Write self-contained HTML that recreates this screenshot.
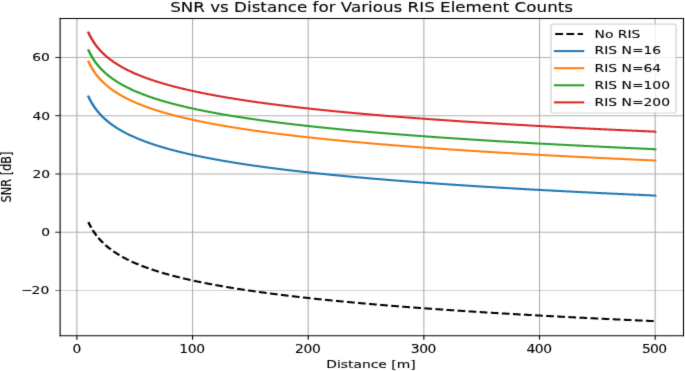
<!DOCTYPE html>
<html><head><meta charset="utf-8"><title>SNR vs Distance</title><style>
html,body{margin:0;padding:0;background:#fff;width:685px;height:371px;overflow:hidden}
svg{display:block}
</style></head><body>
<svg width="685" height="371" viewBox="0 0 685 454.6569" preserveAspectRatio="none" style="">
<defs><clipPath id="c0"><rect x="60.13" y="22.66" width="623.37" height="388.74"/></clipPath><filter id="bl" x="-2%" y="-2%" width="104%" height="104%" color-interpolation-filters="sRGB"><feConvolveMatrix order="3" kernelMatrix="0.011 0.083 0.011 0.083 0.62 0.083 0.011 0.083 0.011" preserveAlpha="false"/></filter></defs>
<g filter="url(#bl)" font-family="'DejaVu Sans', 'Liberation Sans', sans-serif" fill="#000" >
<path d="M76.90 411.40 L76.90 22.66" fill="none" stroke="#b0b0b0" stroke-width="1.111" stroke-linecap="square" stroke-linejoin="round" clip-path="url(#c0)"/>
<path d="M76.90 411.40 L76.90 416.26" fill="#000000" stroke="#000000" stroke-width="1.111" stroke-linecap="butt" stroke-linejoin="round"/>
<text transform="translate(72.52,432.24) scale(1,1.08)" font-size="13.889" stroke="#000" stroke-width="0.12"  letter-spacing="-0.4">0</text>
<path d="M192.55 411.40 L192.55 22.66" fill="none" stroke="#b0b0b0" stroke-width="1.111" stroke-linecap="square" stroke-linejoin="round" clip-path="url(#c0)"/>
<path d="M192.55 411.40 L192.55 416.26" fill="#000000" stroke="#000000" stroke-width="1.111" stroke-linecap="butt" stroke-linejoin="round"/>
<text transform="translate(179.37,432.24) scale(1,1.08)" font-size="13.889" stroke="#000" stroke-width="0.12"  letter-spacing="-0.4">100</text>
<path d="M308.21 411.40 L308.21 22.66" fill="none" stroke="#b0b0b0" stroke-width="1.111" stroke-linecap="square" stroke-linejoin="round" clip-path="url(#c0)"/>
<path d="M308.21 411.40 L308.21 416.26" fill="#000000" stroke="#000000" stroke-width="1.111" stroke-linecap="butt" stroke-linejoin="round"/>
<text transform="translate(295.08,432.24) scale(1,1.08)" font-size="13.889" stroke="#000" stroke-width="0.12"  letter-spacing="-0.4">200</text>
<path d="M423.86 411.40 L423.86 22.66" fill="none" stroke="#b0b0b0" stroke-width="1.111" stroke-linecap="square" stroke-linejoin="round" clip-path="url(#c0)"/>
<path d="M423.86 411.40 L423.86 416.26" fill="#000000" stroke="#000000" stroke-width="1.111" stroke-linecap="butt" stroke-linejoin="round"/>
<text transform="translate(410.73,432.24) scale(1,1.08)" font-size="13.889" stroke="#000" stroke-width="0.12"  letter-spacing="-0.4">300</text>
<path d="M539.51 411.40 L539.51 22.66" fill="none" stroke="#b0b0b0" stroke-width="1.111" stroke-linecap="square" stroke-linejoin="round" clip-path="url(#c0)"/>
<path d="M539.51 411.40 L539.51 416.26" fill="#000000" stroke="#000000" stroke-width="1.111" stroke-linecap="butt" stroke-linejoin="round"/>
<text transform="translate(526.39,432.24) scale(1,1.08)" font-size="13.889" stroke="#000" stroke-width="0.12"  letter-spacing="-0.4">400</text>
<path d="M655.16 411.40 L655.16 22.66" fill="none" stroke="#b0b0b0" stroke-width="1.111" stroke-linecap="square" stroke-linejoin="round" clip-path="url(#c0)"/>
<path d="M655.16 411.40 L655.16 416.26" fill="#000000" stroke="#000000" stroke-width="1.111" stroke-linecap="butt" stroke-linejoin="round"/>
<text transform="translate(642.04,432.24) scale(1,1.08)" font-size="13.889" stroke="#000" stroke-width="0.12"  letter-spacing="-0.75">500</text>
<text transform="translate(326.20,451.06) scale(1,1)" font-size="13.889" stroke="#000" stroke-width="0.12" >Distance [m]</text>
<path d="M60.13 355.96 L683.50 355.96" fill="none" stroke="#b0b0b0" stroke-width="1.111" stroke-linecap="square" stroke-linejoin="round" clip-path="url(#c0)"/>
<path d="M60.13 355.96 L55.27 355.96" fill="#000000" stroke="#000000" stroke-width="1.111" stroke-linecap="butt" stroke-linejoin="round"/>
<text transform="translate(21.18,360.54) scale(1,1)" font-size="13.889" stroke="#000" stroke-width="0.12" >−<tspan dx="-1.2">20</tspan></text>
<path d="M60.13 284.56 L683.50 284.56" fill="none" stroke="#b0b0b0" stroke-width="1.111" stroke-linecap="square" stroke-linejoin="round" clip-path="url(#c0)"/>
<path d="M60.13 284.56 L55.27 284.56" fill="#000000" stroke="#000000" stroke-width="1.111" stroke-linecap="butt" stroke-linejoin="round"/>
<text transform="translate(41.16,289.45) scale(1,1)" font-size="13.889" stroke="#000" stroke-width="0.12" >0</text>
<path d="M60.13 213.16 L683.50 213.16" fill="none" stroke="#b0b0b0" stroke-width="1.111" stroke-linecap="square" stroke-linejoin="round" clip-path="url(#c0)"/>
<path d="M60.13 213.16 L55.27 213.16" fill="#000000" stroke="#000000" stroke-width="1.111" stroke-linecap="butt" stroke-linejoin="round"/>
<text transform="translate(32.41,218.05) scale(1,1)" font-size="13.889" stroke="#000" stroke-width="0.12" >20</text>
<path d="M60.13 141.76 L683.50 141.76" fill="none" stroke="#b0b0b0" stroke-width="1.111" stroke-linecap="square" stroke-linejoin="round" clip-path="url(#c0)"/>
<path d="M60.13 141.76 L55.27 141.76" fill="#000000" stroke="#000000" stroke-width="1.111" stroke-linecap="butt" stroke-linejoin="round"/>
<text transform="translate(32.41,146.65) scale(1,1)" font-size="13.889" stroke="#000" stroke-width="0.12" >40</text>
<path d="M60.13 70.37 L683.50 70.37" fill="none" stroke="#b0b0b0" stroke-width="1.111" stroke-linecap="square" stroke-linejoin="round" clip-path="url(#c0)"/>
<path d="M60.13 70.37 L55.27 70.37" fill="#000000" stroke="#000000" stroke-width="1.111" stroke-linecap="butt" stroke-linejoin="round"/>
<text transform="translate(32.28,75.25) scale(1,1)" font-size="13.889" stroke="#000" stroke-width="0.12" >60</text>
<text transform="translate(10.83,248.10) rotate(-90) scale(1,1)" font-size="13.889" stroke="#000" stroke-width="0.12" >SNR [dB]</text>
<path d="M88.47 272.31 L89.03 273.80 L89.60 275.22 L90.17 276.57 L90.73 277.87 L91.30 279.12 L91.87 280.31 L92.44 281.47 L93.00 282.58 L93.57 283.65 L94.14 284.69 L94.70 285.69 L95.27 286.67 L95.84 287.61 L96.41 288.52 L96.97 289.41 L97.54 290.28 L98.11 291.12 L98.68 291.94 L99.24 292.73 L99.81 293.51 L100.38 294.27 L100.94 295.01 L101.51 295.73 L102.08 296.44 L102.65 297.13 L103.21 297.81 L103.78 298.47 L104.35 299.11 L104.92 299.75 L105.48 300.37 L106.05 300.98 L106.62 301.58 L107.18 302.16 L107.75 302.74 L108.32 303.30 L108.89 303.86 L109.45 304.40 L110.02 304.94 L110.59 305.47 L111.16 305.98 L111.72 306.49 L112.29 306.99 L112.86 307.49 L113.42 307.97 L113.99 308.45 L114.56 308.92 L115.13 309.38 L115.69 309.84 L116.26 310.29 L116.83 310.73 L117.40 311.17 L117.96 311.60 L118.53 312.03 L119.10 312.45 L119.66 312.86 L120.23 313.27 L120.80 313.67 L121.37 314.07 L121.93 314.47 L122.50 314.85 L123.07 315.24 L123.64 315.62 L124.20 315.99 L124.77 316.36 L125.34 316.73 L125.90 317.09 L126.47 317.44 L127.04 317.80 L127.61 318.14 L128.17 318.49 L128.74 318.83 L129.31 319.17 L129.88 319.50 L130.44 319.83 L131.01 320.16 L131.58 320.48 L132.14 320.80 L132.71 321.12 L133.28 321.43 L133.85 321.74 L134.41 322.05 L134.98 322.35 L135.55 322.66 L136.12 322.95 L136.68 323.25 L137.25 323.54 L137.82 323.83 L138.38 324.12 L138.95 324.41 L139.52 324.69 L140.09 324.97 L140.65 325.24 L141.22 325.52 L141.79 325.79 L142.36 326.06 L142.92 326.33 L143.49 326.59 L144.06 326.86 L144.62 327.12 L145.19 327.38 L145.76 327.63 L146.33 327.89 L146.89 328.14 L147.46 328.39 L148.03 328.64 L148.60 328.88 L149.16 329.13 L149.73 329.37 L150.30 329.61 L150.86 329.85 L151.43 330.09 L152.00 330.32 L152.57 330.56 L153.13 330.79 L153.70 331.02 L154.27 331.25 L154.84 331.47 L155.40 331.70 L155.97 331.92 L156.54 332.14 L157.10 332.36 L157.67 332.58 L158.24 332.80 L158.81 333.01 L159.37 333.23 L159.94 333.44 L160.51 333.65 L161.08 333.86 L161.64 334.07 L162.21 334.28 L162.78 334.48 L163.34 334.69 L163.91 334.89 L164.48 335.09 L165.05 335.29 L165.61 335.49 L166.18 335.69 L166.75 335.88 L167.32 336.08 L167.88 336.27 L168.45 336.46 L169.02 336.66 L169.58 336.85 L170.15 337.04 L170.72 337.22 L171.29 337.41 L171.85 337.60 L172.42 337.78 L172.99 337.96 L173.56 338.15 L174.12 338.33 L174.69 338.51 L175.26 338.69 L175.82 338.87 L176.39 339.04 L176.96 339.22 L177.53 339.40 L178.09 339.57 L178.66 339.74 L179.23 339.92 L179.80 340.09 L180.36 340.26 L180.93 340.43 L181.50 340.60 L182.06 340.76 L182.63 340.93 L183.20 341.10 L183.77 341.26 L184.33 341.43 L184.90 341.59 L185.47 341.75 L186.03 341.91 L186.60 342.07 L187.17 342.23 L187.74 342.39 L188.30 342.55 L188.87 342.71 L189.44 342.86 L190.01 343.02 L190.57 343.18 L191.14 343.33 L191.71 343.48 L192.27 343.64 L192.84 343.79 L193.41 343.94 L193.98 344.09 L194.54 344.24 L195.11 344.39 L195.68 344.54 L196.25 344.69 L196.81 344.83 L197.38 344.98 L197.95 345.12 L198.51 345.27 L199.08 345.41 L199.65 345.56 L200.22 345.70 L200.78 345.84 L201.35 345.98 L201.92 346.13 L202.49 346.27 L203.05 346.41 L203.62 346.55 L204.19 346.68 L204.75 346.82 L205.32 346.96 L205.89 347.10 L206.46 347.23 L207.02 347.37 L207.59 347.50 L208.16 347.64 L208.73 347.77 L209.29 347.90 L209.86 348.04 L210.43 348.17 L210.99 348.30 L211.56 348.43 L212.13 348.56 L212.70 348.69 L213.26 348.82 L213.83 348.95 L214.40 349.08 L214.97 349.20 L215.53 349.33 L216.10 349.46 L216.67 349.58 L217.23 349.71 L217.80 349.83 L218.37 349.96 L218.94 350.08 L219.50 350.21 L220.07 350.33 L220.64 350.45 L221.21 350.57 L221.77 350.70 L222.34 350.82 L222.91 350.94 L223.47 351.06 L224.04 351.18 L224.61 351.30 L225.18 351.42 L225.74 351.53 L226.31 351.65 L226.88 351.77 L227.45 351.89 L228.01 352.00 L228.58 352.12 L229.15 352.24 L229.71 352.35 L230.28 352.47 L230.85 352.58 L231.42 352.69 L231.98 352.81 L232.55 352.92 L233.12 353.03 L233.69 353.15 L234.25 353.26 L234.82 353.37 L235.39 353.48 L235.95 353.59 L236.52 353.70 L237.09 353.81 L237.66 353.92 L238.22 354.03 L238.79 354.14 L239.36 354.25 L239.93 354.36 L240.49 354.46 L241.06 354.57 L241.63 354.68 L242.19 354.79 L242.76 354.89 L243.33 355.00 L243.90 355.10 L244.46 355.21 L245.03 355.31 L245.60 355.42 L246.17 355.52 L246.73 355.62 L247.30 355.73 L247.87 355.83 L248.43 355.93 L249.00 356.04 L249.57 356.14 L250.14 356.24 L250.70 356.34 L251.27 356.44 L251.84 356.54 L252.41 356.64 L252.97 356.74 L253.54 356.84 L254.11 356.94 L254.67 357.04 L255.24 357.14 L255.81 357.24 L256.38 357.34 L256.94 357.44 L257.51 357.53 L258.08 357.63 L258.65 357.73 L259.21 357.82 L259.78 357.92 L260.35 358.02 L260.91 358.11 L261.48 358.21 L262.05 358.30 L262.62 358.40 L263.18 358.49 L263.75 358.59 L264.32 358.68 L264.89 358.77 L265.45 358.87 L266.02 358.96 L266.59 359.05 L267.15 359.15 L267.72 359.24 L268.29 359.33 L268.86 359.42 L269.42 359.51 L269.99 359.60 L270.56 359.70 L271.13 359.79 L271.69 359.88 L272.26 359.97 L272.83 360.06 L273.39 360.15 L273.96 360.24 L274.53 360.32 L275.10 360.41 L275.66 360.50 L276.23 360.59 L276.80 360.68 L277.37 360.77 L277.93 360.85 L278.50 360.94 L279.07 361.03 L279.63 361.12 L280.20 361.20 L280.77 361.29 L281.34 361.37 L281.90 361.46 L282.47 361.55 L283.04 361.63 L283.60 361.72 L284.17 361.80 L284.74 361.89 L285.31 361.97 L285.87 362.06 L286.44 362.14 L287.01 362.22 L287.58 362.31 L288.14 362.39 L288.71 362.47 L289.28 362.56 L289.84 362.64 L290.41 362.72 L290.98 362.80 L291.55 362.89 L292.11 362.97 L292.68 363.05 L293.25 363.13 L293.82 363.21 L294.38 363.29 L294.95 363.37 L295.52 363.45 L296.08 363.53 L296.65 363.62 L297.22 363.70 L297.79 363.77 L298.35 363.85 L298.92 363.93 L299.49 364.01 L300.06 364.09 L300.62 364.17 L301.19 364.25 L301.76 364.33 L302.32 364.41 L302.89 364.48 L303.46 364.56 L304.03 364.64 L304.59 364.72 L305.16 364.79 L305.73 364.87 L306.30 364.95 L306.86 365.02 L307.43 365.10 L308.00 365.18 L308.56 365.25 L309.13 365.33 L309.70 365.40 L310.27 365.48 L310.83 365.55 L311.40 365.63 L311.97 365.70 L312.54 365.78 L313.10 365.85 L313.67 365.93 L314.24 366.00 L314.80 366.08 L315.37 366.15 L315.94 366.22 L316.51 366.30 L317.07 366.37 L317.64 366.44 L318.21 366.52 L318.78 366.59 L319.34 366.66 L319.91 366.73 L320.48 366.81 L321.04 366.88 L321.61 366.95 L322.18 367.02 L322.75 367.09 L323.31 367.17 L323.88 367.24 L324.45 367.31 L325.02 367.38 L325.58 367.45 L326.15 367.52 L326.72 367.59 L327.28 367.66 L327.85 367.73 L328.42 367.80 L328.99 367.87 L329.55 367.94 L330.12 368.01 L330.69 368.08 L331.26 368.15 L331.82 368.22 L332.39 368.29 L332.96 368.36 L333.52 368.42 L334.09 368.49 L334.66 368.56 L335.23 368.63 L335.79 368.70 L336.36 368.77 L336.93 368.83 L337.50 368.90 L338.06 368.97 L338.63 369.04 L339.20 369.10 L339.76 369.17 L340.33 369.24 L340.90 369.30 L341.47 369.37 L342.03 369.44 L342.60 369.50 L343.17 369.57 L343.74 369.63 L344.30 369.70 L344.87 369.77 L345.44 369.83 L346.00 369.90 L346.57 369.96 L347.14 370.03 L347.71 370.09 L348.27 370.16 L348.84 370.22 L349.41 370.29 L349.98 370.35 L350.54 370.42 L351.11 370.48 L351.68 370.54 L352.24 370.61 L352.81 370.67 L353.38 370.74 L353.95 370.80 L354.51 370.86 L355.08 370.93 L355.65 370.99 L356.22 371.05 L356.78 371.11 L357.35 371.18 L357.92 371.24 L358.48 371.30 L359.05 371.37 L359.62 371.43 L360.19 371.49 L360.75 371.55 L361.32 371.61 L361.89 371.68 L362.46 371.74 L363.02 371.80 L363.59 371.86 L364.16 371.92 L364.72 371.98 L365.29 372.04 L365.86 372.10 L366.43 372.17 L366.99 372.23 L367.56 372.29 L368.13 372.35 L368.70 372.41 L369.26 372.47 L369.83 372.53 L370.40 372.59 L370.96 372.65 L371.53 372.71 L372.10 372.77 L372.67 372.83 L373.23 372.89 L373.80 372.95 L374.37 373.00 L374.93 373.06 L375.50 373.12 L376.07 373.18 L376.64 373.24 L377.20 373.30 L377.77 373.36 L378.34 373.42 L378.91 373.47 L379.47 373.53 L380.04 373.59 L380.61 373.65 L381.17 373.71 L381.74 373.76 L382.31 373.82 L382.88 373.88 L383.44 373.94 L384.01 373.99 L384.58 374.05 L385.15 374.11 L385.71 374.16 L386.28 374.22 L386.85 374.28 L387.41 374.34 L387.98 374.39 L388.55 374.45 L389.12 374.50 L389.68 374.56 L390.25 374.62 L390.82 374.67 L391.39 374.73 L391.95 374.79 L392.52 374.84 L393.09 374.90 L393.65 374.95 L394.22 375.01 L394.79 375.06 L395.36 375.12 L395.92 375.17 L396.49 375.23 L397.06 375.28 L397.63 375.34 L398.19 375.39 L398.76 375.45 L399.33 375.50 L399.89 375.56 L400.46 375.61 L401.03 375.67 L401.60 375.72 L402.16 375.77 L402.73 375.83 L403.30 375.88 L403.87 375.94 L404.43 375.99 L405.00 376.04 L405.57 376.10 L406.13 376.15 L406.70 376.20 L407.27 376.26 L407.84 376.31 L408.40 376.36 L408.97 376.42 L409.54 376.47 L410.11 376.52 L410.67 376.57 L411.24 376.63 L411.81 376.68 L412.37 376.73 L412.94 376.79 L413.51 376.84 L414.08 376.89 L414.64 376.94 L415.21 376.99 L415.78 377.05 L416.35 377.10 L416.91 377.15 L417.48 377.20 L418.05 377.25 L418.61 377.30 L419.18 377.36 L419.75 377.41 L420.32 377.46 L420.88 377.51 L421.45 377.56 L422.02 377.61 L422.59 377.66 L423.15 377.71 L423.72 377.76 L424.29 377.81 L424.85 377.87 L425.42 377.92 L425.99 377.97 L426.56 378.02 L427.12 378.07 L427.69 378.12 L428.26 378.17 L428.83 378.22 L429.39 378.27 L429.96 378.32 L430.53 378.37 L431.09 378.42 L431.66 378.47 L432.23 378.52 L432.80 378.56 L433.36 378.61 L433.93 378.66 L434.50 378.71 L435.07 378.76 L435.63 378.81 L436.20 378.86 L436.77 378.91 L437.33 378.96 L437.90 379.01 L438.47 379.06 L439.04 379.10 L439.60 379.15 L440.17 379.20 L440.74 379.25 L441.31 379.30 L441.87 379.35 L442.44 379.39 L443.01 379.44 L443.57 379.49 L444.14 379.54 L444.71 379.59 L445.28 379.63 L445.84 379.68 L446.41 379.73 L446.98 379.78 L447.55 379.82 L448.11 379.87 L448.68 379.92 L449.25 379.97 L449.81 380.01 L450.38 380.06 L450.95 380.11 L451.52 380.15 L452.08 380.20 L452.65 380.25 L453.22 380.29 L453.79 380.34 L454.35 380.39 L454.92 380.43 L455.49 380.48 L456.05 380.53 L456.62 380.57 L457.19 380.62 L457.76 380.67 L458.32 380.71 L458.89 380.76 L459.46 380.80 L460.03 380.85 L460.59 380.90 L461.16 380.94 L461.73 380.99 L462.29 381.03 L462.86 381.08 L463.43 381.13 L464.00 381.17 L464.56 381.22 L465.13 381.26 L465.70 381.31 L466.26 381.35 L466.83 381.40 L467.40 381.44 L467.97 381.49 L468.53 381.53 L469.10 381.58 L469.67 381.62 L470.24 381.67 L470.80 381.71 L471.37 381.76 L471.94 381.80 L472.50 381.84 L473.07 381.89 L473.64 381.93 L474.21 381.98 L474.77 382.02 L475.34 382.07 L475.91 382.11 L476.48 382.15 L477.04 382.20 L477.61 382.24 L478.18 382.29 L478.74 382.33 L479.31 382.37 L479.88 382.42 L480.45 382.46 L481.01 382.50 L481.58 382.55 L482.15 382.59 L482.72 382.63 L483.28 382.68 L483.85 382.72 L484.42 382.76 L484.98 382.81 L485.55 382.85 L486.12 382.89 L486.69 382.94 L487.25 382.98 L487.82 383.02 L488.39 383.07 L488.96 383.11 L489.52 383.15 L490.09 383.19 L490.66 383.24 L491.22 383.28 L491.79 383.32 L492.36 383.36 L492.93 383.41 L493.49 383.45 L494.06 383.49 L494.63 383.53 L495.20 383.57 L495.76 383.62 L496.33 383.66 L496.90 383.70 L497.46 383.74 L498.03 383.78 L498.60 383.83 L499.17 383.87 L499.73 383.91 L500.30 383.95 L500.87 383.99 L501.44 384.03 L502.00 384.07 L502.57 384.12 L503.14 384.16 L503.70 384.20 L504.27 384.24 L504.84 384.28 L505.41 384.32 L505.97 384.36 L506.54 384.40 L507.11 384.44 L507.68 384.49 L508.24 384.53 L508.81 384.57 L509.38 384.61 L509.94 384.65 L510.51 384.69 L511.08 384.73 L511.65 384.77 L512.21 384.81 L512.78 384.85 L513.35 384.89 L513.92 384.93 L514.48 384.97 L515.05 385.01 L515.62 385.05 L516.18 385.09 L516.75 385.13 L517.32 385.17 L517.89 385.21 L518.45 385.25 L519.02 385.29 L519.59 385.33 L520.16 385.37 L520.72 385.41 L521.29 385.45 L521.86 385.49 L522.42 385.53 L522.99 385.57 L523.56 385.61 L524.13 385.65 L524.69 385.69 L525.26 385.73 L525.83 385.77 L526.40 385.80 L526.96 385.84 L527.53 385.88 L528.10 385.92 L528.66 385.96 L529.23 386.00 L529.80 386.04 L530.37 386.08 L530.93 386.12 L531.50 386.15 L532.07 386.19 L532.64 386.23 L533.20 386.27 L533.77 386.31 L534.34 386.35 L534.90 386.39 L535.47 386.42 L536.04 386.46 L536.61 386.50 L537.17 386.54 L537.74 386.58 L538.31 386.62 L538.88 386.65 L539.44 386.69 L540.01 386.73 L540.58 386.77 L541.14 386.81 L541.71 386.84 L542.28 386.88 L542.85 386.92 L543.41 386.96 L543.98 386.99 L544.55 387.03 L545.12 387.07 L545.68 387.11 L546.25 387.14 L546.82 387.18 L547.38 387.22 L547.95 387.26 L548.52 387.29 L549.09 387.33 L549.65 387.37 L550.22 387.41 L550.79 387.44 L551.36 387.48 L551.92 387.52 L552.49 387.55 L553.06 387.59 L553.62 387.63 L554.19 387.67 L554.76 387.70 L555.33 387.74 L555.89 387.78 L556.46 387.81 L557.03 387.85 L557.60 387.89 L558.16 387.92 L558.73 387.96 L559.30 388.00 L559.86 388.03 L560.43 388.07 L561.00 388.10 L561.57 388.14 L562.13 388.18 L562.70 388.21 L563.27 388.25 L563.83 388.29 L564.40 388.32 L564.97 388.36 L565.54 388.39 L566.10 388.43 L566.67 388.47 L567.24 388.50 L567.81 388.54 L568.37 388.57 L568.94 388.61 L569.51 388.64 L570.07 388.68 L570.64 388.72 L571.21 388.75 L571.78 388.79 L572.34 388.82 L572.91 388.86 L573.48 388.89 L574.05 388.93 L574.61 388.96 L575.18 389.00 L575.75 389.03 L576.31 389.07 L576.88 389.11 L577.45 389.14 L578.02 389.18 L578.58 389.21 L579.15 389.25 L579.72 389.28 L580.29 389.32 L580.85 389.35 L581.42 389.39 L581.99 389.42 L582.55 389.46 L583.12 389.49 L583.69 389.52 L584.26 389.56 L584.82 389.59 L585.39 389.63 L585.96 389.66 L586.53 389.70 L587.09 389.73 L587.66 389.77 L588.23 389.80 L588.79 389.84 L589.36 389.87 L589.93 389.90 L590.50 389.94 L591.06 389.97 L591.63 390.01 L592.20 390.04 L592.77 390.08 L593.33 390.11 L593.90 390.14 L594.47 390.18 L595.03 390.21 L595.60 390.25 L596.17 390.28 L596.74 390.31 L597.30 390.35 L597.87 390.38 L598.44 390.41 L599.01 390.45 L599.57 390.48 L600.14 390.52 L600.71 390.55 L601.27 390.58 L601.84 390.62 L602.41 390.65 L602.98 390.68 L603.54 390.72 L604.11 390.75 L604.68 390.78 L605.25 390.82 L605.81 390.85 L606.38 390.88 L606.95 390.92 L607.51 390.95 L608.08 390.98 L608.65 391.02 L609.22 391.05 L609.78 391.08 L610.35 391.11 L610.92 391.15 L611.49 391.18 L612.05 391.21 L612.62 391.25 L613.19 391.28 L613.75 391.31 L614.32 391.34 L614.89 391.38 L615.46 391.41 L616.02 391.44 L616.59 391.48 L617.16 391.51 L617.73 391.54 L618.29 391.57 L618.86 391.61 L619.43 391.64 L619.99 391.67 L620.56 391.70 L621.13 391.73 L621.70 391.77 L622.26 391.80 L622.83 391.83 L623.40 391.86 L623.97 391.90 L624.53 391.93 L625.10 391.96 L625.67 391.99 L626.23 392.02 L626.80 392.06 L627.37 392.09 L627.94 392.12 L628.50 392.15 L629.07 392.18 L629.64 392.22 L630.21 392.25 L630.77 392.28 L631.34 392.31 L631.91 392.34 L632.47 392.37 L633.04 392.41 L633.61 392.44 L634.18 392.47 L634.74 392.50 L635.31 392.53 L635.88 392.56 L636.45 392.60 L637.01 392.63 L637.58 392.66 L638.15 392.69 L638.71 392.72 L639.28 392.75 L639.85 392.78 L640.42 392.81 L640.98 392.85 L641.55 392.88 L642.12 392.91 L642.69 392.94 L643.25 392.97 L643.82 393.00 L644.39 393.03 L644.95 393.06 L645.52 393.09 L646.09 393.13 L646.66 393.16 L647.22 393.19 L647.79 393.22 L648.36 393.25 L648.93 393.28 L649.49 393.31 L650.06 393.34 L650.63 393.37 L651.19 393.40 L651.76 393.43 L652.33 393.46 L652.90 393.49 L653.46 393.52 L654.03 393.55 L654.60 393.59 L655.16 393.62" fill="none" stroke="#000000" stroke-width="2.500" stroke-linecap="butt" stroke-linejoin="round" stroke-dasharray="7.755,3.353" stroke-dashoffset="0.500" clip-path="url(#c0)"/>
<path d="M88.47 118.37 L89.03 119.86 L89.60 121.28 L90.17 122.63 L90.73 123.93 L91.30 125.17 L91.87 126.37 L92.44 127.53 L93.00 128.64 L93.57 129.71 L94.14 130.75 L94.70 131.75 L95.27 132.73 L95.84 133.67 L96.41 134.58 L96.97 135.47 L97.54 136.34 L98.11 137.18 L98.68 138.00 L99.24 138.79 L99.81 139.57 L100.38 140.33 L100.94 141.07 L101.51 141.79 L102.08 142.50 L102.65 143.19 L103.21 143.86 L103.78 144.53 L104.35 145.17 L104.92 145.81 L105.48 146.43 L106.05 147.04 L106.62 147.64 L107.18 148.22 L107.75 148.80 L108.32 149.36 L108.89 149.92 L109.45 150.46 L110.02 151.00 L110.59 151.53 L111.16 152.04 L111.72 152.55 L112.29 153.05 L112.86 153.55 L113.42 154.03 L113.99 154.51 L114.56 154.98 L115.13 155.44 L115.69 155.90 L116.26 156.35 L116.83 156.79 L117.40 157.23 L117.96 157.66 L118.53 158.09 L119.10 158.51 L119.66 158.92 L120.23 159.33 L120.80 159.73 L121.37 160.13 L121.93 160.53 L122.50 160.91 L123.07 161.30 L123.64 161.68 L124.20 162.05 L124.77 162.42 L125.34 162.78 L125.90 163.15 L126.47 163.50 L127.04 163.86 L127.61 164.20 L128.17 164.55 L128.74 164.89 L129.31 165.23 L129.88 165.56 L130.44 165.89 L131.01 166.22 L131.58 166.54 L132.14 166.86 L132.71 167.18 L133.28 167.49 L133.85 167.80 L134.41 168.11 L134.98 168.41 L135.55 168.72 L136.12 169.01 L136.68 169.31 L137.25 169.60 L137.82 169.89 L138.38 170.18 L138.95 170.46 L139.52 170.75 L140.09 171.03 L140.65 171.30 L141.22 171.58 L141.79 171.85 L142.36 172.12 L142.92 172.39 L143.49 172.65 L144.06 172.92 L144.62 173.18 L145.19 173.44 L145.76 173.69 L146.33 173.95 L146.89 174.20 L147.46 174.45 L148.03 174.70 L148.60 174.94 L149.16 175.19 L149.73 175.43 L150.30 175.67 L150.86 175.91 L151.43 176.15 L152.00 176.38 L152.57 176.62 L153.13 176.85 L153.70 177.08 L154.27 177.31 L154.84 177.53 L155.40 177.76 L155.97 177.98 L156.54 178.20 L157.10 178.42 L157.67 178.64 L158.24 178.86 L158.81 179.07 L159.37 179.29 L159.94 179.50 L160.51 179.71 L161.08 179.92 L161.64 180.13 L162.21 180.34 L162.78 180.54 L163.34 180.74 L163.91 180.95 L164.48 181.15 L165.05 181.35 L165.61 181.55 L166.18 181.75 L166.75 181.94 L167.32 182.14 L167.88 182.33 L168.45 182.52 L169.02 182.72 L169.58 182.91 L170.15 183.10 L170.72 183.28 L171.29 183.47 L171.85 183.66 L172.42 183.84 L172.99 184.02 L173.56 184.21 L174.12 184.39 L174.69 184.57 L175.26 184.75 L175.82 184.93 L176.39 185.10 L176.96 185.28 L177.53 185.46 L178.09 185.63 L178.66 185.80 L179.23 185.98 L179.80 186.15 L180.36 186.32 L180.93 186.49 L181.50 186.66 L182.06 186.82 L182.63 186.99 L183.20 187.16 L183.77 187.32 L184.33 187.48 L184.90 187.65 L185.47 187.81 L186.03 187.97 L186.60 188.13 L187.17 188.29 L187.74 188.45 L188.30 188.61 L188.87 188.77 L189.44 188.92 L190.01 189.08 L190.57 189.24 L191.14 189.39 L191.71 189.54 L192.27 189.70 L192.84 189.85 L193.41 190.00 L193.98 190.15 L194.54 190.30 L195.11 190.45 L195.68 190.60 L196.25 190.75 L196.81 190.89 L197.38 191.04 L197.95 191.18 L198.51 191.33 L199.08 191.47 L199.65 191.62 L200.22 191.76 L200.78 191.90 L201.35 192.04 L201.92 192.19 L202.49 192.33 L203.05 192.47 L203.62 192.60 L204.19 192.74 L204.75 192.88 L205.32 193.02 L205.89 193.15 L206.46 193.29 L207.02 193.43 L207.59 193.56 L208.16 193.70 L208.73 193.83 L209.29 193.96 L209.86 194.09 L210.43 194.23 L210.99 194.36 L211.56 194.49 L212.13 194.62 L212.70 194.75 L213.26 194.88 L213.83 195.01 L214.40 195.14 L214.97 195.26 L215.53 195.39 L216.10 195.52 L216.67 195.64 L217.23 195.77 L217.80 195.89 L218.37 196.02 L218.94 196.14 L219.50 196.27 L220.07 196.39 L220.64 196.51 L221.21 196.63 L221.77 196.76 L222.34 196.88 L222.91 197.00 L223.47 197.12 L224.04 197.24 L224.61 197.36 L225.18 197.48 L225.74 197.59 L226.31 197.71 L226.88 197.83 L227.45 197.95 L228.01 198.06 L228.58 198.18 L229.15 198.29 L229.71 198.41 L230.28 198.53 L230.85 198.64 L231.42 198.75 L231.98 198.87 L232.55 198.98 L233.12 199.09 L233.69 199.21 L234.25 199.32 L234.82 199.43 L235.39 199.54 L235.95 199.65 L236.52 199.76 L237.09 199.87 L237.66 199.98 L238.22 200.09 L238.79 200.20 L239.36 200.31 L239.93 200.42 L240.49 200.52 L241.06 200.63 L241.63 200.74 L242.19 200.84 L242.76 200.95 L243.33 201.06 L243.90 201.16 L244.46 201.27 L245.03 201.37 L245.60 201.48 L246.17 201.58 L246.73 201.68 L247.30 201.79 L247.87 201.89 L248.43 201.99 L249.00 202.10 L249.57 202.20 L250.14 202.30 L250.70 202.40 L251.27 202.50 L251.84 202.60 L252.41 202.70 L252.97 202.80 L253.54 202.90 L254.11 203.00 L254.67 203.10 L255.24 203.20 L255.81 203.30 L256.38 203.40 L256.94 203.49 L257.51 203.59 L258.08 203.69 L258.65 203.79 L259.21 203.88 L259.78 203.98 L260.35 204.08 L260.91 204.17 L261.48 204.27 L262.05 204.36 L262.62 204.46 L263.18 204.55 L263.75 204.65 L264.32 204.74 L264.89 204.83 L265.45 204.93 L266.02 205.02 L266.59 205.11 L267.15 205.21 L267.72 205.30 L268.29 205.39 L268.86 205.48 L269.42 205.57 L269.99 205.66 L270.56 205.75 L271.13 205.85 L271.69 205.94 L272.26 206.03 L272.83 206.12 L273.39 206.21 L273.96 206.30 L274.53 206.38 L275.10 206.47 L275.66 206.56 L276.23 206.65 L276.80 206.74 L277.37 206.83 L277.93 206.91 L278.50 207.00 L279.07 207.09 L279.63 207.18 L280.20 207.26 L280.77 207.35 L281.34 207.43 L281.90 207.52 L282.47 207.61 L283.04 207.69 L283.60 207.78 L284.17 207.86 L284.74 207.95 L285.31 208.03 L285.87 208.12 L286.44 208.20 L287.01 208.28 L287.58 208.37 L288.14 208.45 L288.71 208.53 L289.28 208.62 L289.84 208.70 L290.41 208.78 L290.98 208.86 L291.55 208.95 L292.11 209.03 L292.68 209.11 L293.25 209.19 L293.82 209.27 L294.38 209.35 L294.95 209.43 L295.52 209.51 L296.08 209.59 L296.65 209.67 L297.22 209.75 L297.79 209.83 L298.35 209.91 L298.92 209.99 L299.49 210.07 L300.06 210.15 L300.62 210.23 L301.19 210.31 L301.76 210.39 L302.32 210.46 L302.89 210.54 L303.46 210.62 L304.03 210.70 L304.59 210.78 L305.16 210.85 L305.73 210.93 L306.30 211.01 L306.86 211.08 L307.43 211.16 L308.00 211.24 L308.56 211.31 L309.13 211.39 L309.70 211.46 L310.27 211.54 L310.83 211.61 L311.40 211.69 L311.97 211.76 L312.54 211.84 L313.10 211.91 L313.67 211.99 L314.24 212.06 L314.80 212.14 L315.37 212.21 L315.94 212.28 L316.51 212.36 L317.07 212.43 L317.64 212.50 L318.21 212.58 L318.78 212.65 L319.34 212.72 L319.91 212.79 L320.48 212.87 L321.04 212.94 L321.61 213.01 L322.18 213.08 L322.75 213.15 L323.31 213.23 L323.88 213.30 L324.45 213.37 L325.02 213.44 L325.58 213.51 L326.15 213.58 L326.72 213.65 L327.28 213.72 L327.85 213.79 L328.42 213.86 L328.99 213.93 L329.55 214.00 L330.12 214.07 L330.69 214.14 L331.26 214.21 L331.82 214.28 L332.39 214.35 L332.96 214.42 L333.52 214.48 L334.09 214.55 L334.66 214.62 L335.23 214.69 L335.79 214.76 L336.36 214.82 L336.93 214.89 L337.50 214.96 L338.06 215.03 L338.63 215.09 L339.20 215.16 L339.76 215.23 L340.33 215.30 L340.90 215.36 L341.47 215.43 L342.03 215.50 L342.60 215.56 L343.17 215.63 L343.74 215.69 L344.30 215.76 L344.87 215.83 L345.44 215.89 L346.00 215.96 L346.57 216.02 L347.14 216.09 L347.71 216.15 L348.27 216.22 L348.84 216.28 L349.41 216.35 L349.98 216.41 L350.54 216.48 L351.11 216.54 L351.68 216.60 L352.24 216.67 L352.81 216.73 L353.38 216.79 L353.95 216.86 L354.51 216.92 L355.08 216.99 L355.65 217.05 L356.22 217.11 L356.78 217.17 L357.35 217.24 L357.92 217.30 L358.48 217.36 L359.05 217.42 L359.62 217.49 L360.19 217.55 L360.75 217.61 L361.32 217.67 L361.89 217.73 L362.46 217.80 L363.02 217.86 L363.59 217.92 L364.16 217.98 L364.72 218.04 L365.29 218.10 L365.86 218.16 L366.43 218.22 L366.99 218.29 L367.56 218.35 L368.13 218.41 L368.70 218.47 L369.26 218.53 L369.83 218.59 L370.40 218.65 L370.96 218.71 L371.53 218.77 L372.10 218.83 L372.67 218.89 L373.23 218.95 L373.80 219.00 L374.37 219.06 L374.93 219.12 L375.50 219.18 L376.07 219.24 L376.64 219.30 L377.20 219.36 L377.77 219.42 L378.34 219.47 L378.91 219.53 L379.47 219.59 L380.04 219.65 L380.61 219.71 L381.17 219.77 L381.74 219.82 L382.31 219.88 L382.88 219.94 L383.44 220.00 L384.01 220.05 L384.58 220.11 L385.15 220.17 L385.71 220.22 L386.28 220.28 L386.85 220.34 L387.41 220.39 L387.98 220.45 L388.55 220.51 L389.12 220.56 L389.68 220.62 L390.25 220.68 L390.82 220.73 L391.39 220.79 L391.95 220.84 L392.52 220.90 L393.09 220.96 L393.65 221.01 L394.22 221.07 L394.79 221.12 L395.36 221.18 L395.92 221.23 L396.49 221.29 L397.06 221.34 L397.63 221.40 L398.19 221.45 L398.76 221.51 L399.33 221.56 L399.89 221.62 L400.46 221.67 L401.03 221.73 L401.60 221.78 L402.16 221.83 L402.73 221.89 L403.30 221.94 L403.87 222.00 L404.43 222.05 L405.00 222.10 L405.57 222.16 L406.13 222.21 L406.70 222.26 L407.27 222.32 L407.84 222.37 L408.40 222.42 L408.97 222.48 L409.54 222.53 L410.11 222.58 L410.67 222.63 L411.24 222.69 L411.81 222.74 L412.37 222.79 L412.94 222.84 L413.51 222.90 L414.08 222.95 L414.64 223.00 L415.21 223.05 L415.78 223.11 L416.35 223.16 L416.91 223.21 L417.48 223.26 L418.05 223.31 L418.61 223.36 L419.18 223.41 L419.75 223.47 L420.32 223.52 L420.88 223.57 L421.45 223.62 L422.02 223.67 L422.59 223.72 L423.15 223.77 L423.72 223.82 L424.29 223.87 L424.85 223.92 L425.42 223.98 L425.99 224.03 L426.56 224.08 L427.12 224.13 L427.69 224.18 L428.26 224.23 L428.83 224.28 L429.39 224.33 L429.96 224.38 L430.53 224.43 L431.09 224.48 L431.66 224.53 L432.23 224.57 L432.80 224.62 L433.36 224.67 L433.93 224.72 L434.50 224.77 L435.07 224.82 L435.63 224.87 L436.20 224.92 L436.77 224.97 L437.33 225.02 L437.90 225.07 L438.47 225.11 L439.04 225.16 L439.60 225.21 L440.17 225.26 L440.74 225.31 L441.31 225.36 L441.87 225.41 L442.44 225.45 L443.01 225.50 L443.57 225.55 L444.14 225.60 L444.71 225.65 L445.28 225.69 L445.84 225.74 L446.41 225.79 L446.98 225.84 L447.55 225.88 L448.11 225.93 L448.68 225.98 L449.25 226.03 L449.81 226.07 L450.38 226.12 L450.95 226.17 L451.52 226.21 L452.08 226.26 L452.65 226.31 L453.22 226.35 L453.79 226.40 L454.35 226.45 L454.92 226.49 L455.49 226.54 L456.05 226.59 L456.62 226.63 L457.19 226.68 L457.76 226.73 L458.32 226.77 L458.89 226.82 L459.46 226.86 L460.03 226.91 L460.59 226.96 L461.16 227.00 L461.73 227.05 L462.29 227.09 L462.86 227.14 L463.43 227.18 L464.00 227.23 L464.56 227.28 L465.13 227.32 L465.70 227.37 L466.26 227.41 L466.83 227.46 L467.40 227.50 L467.97 227.55 L468.53 227.59 L469.10 227.64 L469.67 227.68 L470.24 227.73 L470.80 227.77 L471.37 227.82 L471.94 227.86 L472.50 227.90 L473.07 227.95 L473.64 227.99 L474.21 228.04 L474.77 228.08 L475.34 228.13 L475.91 228.17 L476.48 228.21 L477.04 228.26 L477.61 228.30 L478.18 228.35 L478.74 228.39 L479.31 228.43 L479.88 228.48 L480.45 228.52 L481.01 228.56 L481.58 228.61 L482.15 228.65 L482.72 228.69 L483.28 228.74 L483.85 228.78 L484.42 228.82 L484.98 228.87 L485.55 228.91 L486.12 228.95 L486.69 229.00 L487.25 229.04 L487.82 229.08 L488.39 229.12 L488.96 229.17 L489.52 229.21 L490.09 229.25 L490.66 229.30 L491.22 229.34 L491.79 229.38 L492.36 229.42 L492.93 229.46 L493.49 229.51 L494.06 229.55 L494.63 229.59 L495.20 229.63 L495.76 229.68 L496.33 229.72 L496.90 229.76 L497.46 229.80 L498.03 229.84 L498.60 229.88 L499.17 229.93 L499.73 229.97 L500.30 230.01 L500.87 230.05 L501.44 230.09 L502.00 230.13 L502.57 230.18 L503.14 230.22 L503.70 230.26 L504.27 230.30 L504.84 230.34 L505.41 230.38 L505.97 230.42 L506.54 230.46 L507.11 230.50 L507.68 230.55 L508.24 230.59 L508.81 230.63 L509.38 230.67 L509.94 230.71 L510.51 230.75 L511.08 230.79 L511.65 230.83 L512.21 230.87 L512.78 230.91 L513.35 230.95 L513.92 230.99 L514.48 231.03 L515.05 231.07 L515.62 231.11 L516.18 231.15 L516.75 231.19 L517.32 231.23 L517.89 231.27 L518.45 231.31 L519.02 231.35 L519.59 231.39 L520.16 231.43 L520.72 231.47 L521.29 231.51 L521.86 231.55 L522.42 231.59 L522.99 231.63 L523.56 231.67 L524.13 231.71 L524.69 231.75 L525.26 231.79 L525.83 231.82 L526.40 231.86 L526.96 231.90 L527.53 231.94 L528.10 231.98 L528.66 232.02 L529.23 232.06 L529.80 232.10 L530.37 232.14 L530.93 232.18 L531.50 232.21 L532.07 232.25 L532.64 232.29 L533.20 232.33 L533.77 232.37 L534.34 232.41 L534.90 232.45 L535.47 232.48 L536.04 232.52 L536.61 232.56 L537.17 232.60 L537.74 232.64 L538.31 232.68 L538.88 232.71 L539.44 232.75 L540.01 232.79 L540.58 232.83 L541.14 232.87 L541.71 232.90 L542.28 232.94 L542.85 232.98 L543.41 233.02 L543.98 233.05 L544.55 233.09 L545.12 233.13 L545.68 233.17 L546.25 233.20 L546.82 233.24 L547.38 233.28 L547.95 233.32 L548.52 233.35 L549.09 233.39 L549.65 233.43 L550.22 233.47 L550.79 233.50 L551.36 233.54 L551.92 233.58 L552.49 233.61 L553.06 233.65 L553.62 233.69 L554.19 233.72 L554.76 233.76 L555.33 233.80 L555.89 233.83 L556.46 233.87 L557.03 233.91 L557.60 233.94 L558.16 233.98 L558.73 234.02 L559.30 234.05 L559.86 234.09 L560.43 234.13 L561.00 234.16 L561.57 234.20 L562.13 234.24 L562.70 234.27 L563.27 234.31 L563.83 234.34 L564.40 234.38 L564.97 234.42 L565.54 234.45 L566.10 234.49 L566.67 234.52 L567.24 234.56 L567.81 234.60 L568.37 234.63 L568.94 234.67 L569.51 234.70 L570.07 234.74 L570.64 234.78 L571.21 234.81 L571.78 234.85 L572.34 234.88 L572.91 234.92 L573.48 234.95 L574.05 234.99 L574.61 235.02 L575.18 235.06 L575.75 235.09 L576.31 235.13 L576.88 235.16 L577.45 235.20 L578.02 235.24 L578.58 235.27 L579.15 235.31 L579.72 235.34 L580.29 235.38 L580.85 235.41 L581.42 235.44 L581.99 235.48 L582.55 235.51 L583.12 235.55 L583.69 235.58 L584.26 235.62 L584.82 235.65 L585.39 235.69 L585.96 235.72 L586.53 235.76 L587.09 235.79 L587.66 235.83 L588.23 235.86 L588.79 235.89 L589.36 235.93 L589.93 235.96 L590.50 236.00 L591.06 236.03 L591.63 236.07 L592.20 236.10 L592.77 236.13 L593.33 236.17 L593.90 236.20 L594.47 236.24 L595.03 236.27 L595.60 236.30 L596.17 236.34 L596.74 236.37 L597.30 236.41 L597.87 236.44 L598.44 236.47 L599.01 236.51 L599.57 236.54 L600.14 236.57 L600.71 236.61 L601.27 236.64 L601.84 236.68 L602.41 236.71 L602.98 236.74 L603.54 236.78 L604.11 236.81 L604.68 236.84 L605.25 236.88 L605.81 236.91 L606.38 236.94 L606.95 236.98 L607.51 237.01 L608.08 237.04 L608.65 237.07 L609.22 237.11 L609.78 237.14 L610.35 237.17 L610.92 237.21 L611.49 237.24 L612.05 237.27 L612.62 237.31 L613.19 237.34 L613.75 237.37 L614.32 237.40 L614.89 237.44 L615.46 237.47 L616.02 237.50 L616.59 237.53 L617.16 237.57 L617.73 237.60 L618.29 237.63 L618.86 237.66 L619.43 237.70 L619.99 237.73 L620.56 237.76 L621.13 237.79 L621.70 237.83 L622.26 237.86 L622.83 237.89 L623.40 237.92 L623.97 237.96 L624.53 237.99 L625.10 238.02 L625.67 238.05 L626.23 238.08 L626.80 238.12 L627.37 238.15 L627.94 238.18 L628.50 238.21 L629.07 238.24 L629.64 238.28 L630.21 238.31 L630.77 238.34 L631.34 238.37 L631.91 238.40 L632.47 238.43 L633.04 238.47 L633.61 238.50 L634.18 238.53 L634.74 238.56 L635.31 238.59 L635.88 238.62 L636.45 238.65 L637.01 238.69 L637.58 238.72 L638.15 238.75 L638.71 238.78 L639.28 238.81 L639.85 238.84 L640.42 238.87 L640.98 238.91 L641.55 238.94 L642.12 238.97 L642.69 239.00 L643.25 239.03 L643.82 239.06 L644.39 239.09 L644.95 239.12 L645.52 239.15 L646.09 239.18 L646.66 239.22 L647.22 239.25 L647.79 239.28 L648.36 239.31 L648.93 239.34 L649.49 239.37 L650.06 239.40 L650.63 239.43 L651.19 239.46 L651.76 239.49 L652.33 239.52 L652.90 239.55 L653.46 239.58 L654.03 239.61 L654.60 239.64 L655.16 239.68" fill="none" stroke="#1f77b4" stroke-width="2.500" stroke-linecap="square" stroke-linejoin="round" clip-path="url(#c0)"/>
<path d="M88.47 75.39 L89.03 76.87 L89.60 78.29 L90.17 79.64 L90.73 80.94 L91.30 82.19 L91.87 83.39 L92.44 84.54 L93.00 85.65 L93.57 86.73 L94.14 87.76 L94.70 88.77 L95.27 89.74 L95.84 90.68 L96.41 91.60 L96.97 92.49 L97.54 93.35 L98.11 94.19 L98.68 95.01 L99.24 95.81 L99.81 96.58 L100.38 97.34 L100.94 98.08 L101.51 98.81 L102.08 99.51 L102.65 100.20 L103.21 100.88 L103.78 101.54 L104.35 102.19 L104.92 102.82 L105.48 103.44 L106.05 104.05 L106.62 104.65 L107.18 105.24 L107.75 105.81 L108.32 106.38 L108.89 106.93 L109.45 107.48 L110.02 108.01 L110.59 108.54 L111.16 109.06 L111.72 109.57 L112.29 110.07 L112.86 110.56 L113.42 111.05 L113.99 111.52 L114.56 111.99 L115.13 112.46 L115.69 112.92 L116.26 113.37 L116.83 113.81 L117.40 114.25 L117.96 114.68 L118.53 115.10 L119.10 115.52 L119.66 115.94 L120.23 116.35 L120.80 116.75 L121.37 117.15 L121.93 117.54 L122.50 117.93 L123.07 118.31 L123.64 118.69 L124.20 119.06 L124.77 119.43 L125.34 119.80 L125.90 120.16 L126.47 120.52 L127.04 120.87 L127.61 121.22 L128.17 121.56 L128.74 121.90 L129.31 122.24 L129.88 122.58 L130.44 122.91 L131.01 123.23 L131.58 123.56 L132.14 123.88 L132.71 124.19 L133.28 124.51 L133.85 124.82 L134.41 125.12 L134.98 125.43 L135.55 125.73 L136.12 126.03 L136.68 126.32 L137.25 126.62 L137.82 126.91 L138.38 127.19 L138.95 127.48 L139.52 127.76 L140.09 128.04 L140.65 128.32 L141.22 128.59 L141.79 128.87 L142.36 129.14 L142.92 129.40 L143.49 129.67 L144.06 129.93 L144.62 130.19 L145.19 130.45 L145.76 130.71 L146.33 130.96 L146.89 131.21 L147.46 131.46 L148.03 131.71 L148.60 131.96 L149.16 132.20 L149.73 132.45 L150.30 132.69 L150.86 132.92 L151.43 133.16 L152.00 133.40 L152.57 133.63 L153.13 133.86 L153.70 134.09 L154.27 134.32 L154.84 134.55 L155.40 134.77 L155.97 134.99 L156.54 135.22 L157.10 135.44 L157.67 135.65 L158.24 135.87 L158.81 136.09 L159.37 136.30 L159.94 136.51 L160.51 136.72 L161.08 136.93 L161.64 137.14 L162.21 137.35 L162.78 137.56 L163.34 137.76 L163.91 137.96 L164.48 138.16 L165.05 138.36 L165.61 138.56 L166.18 138.76 L166.75 138.96 L167.32 139.15 L167.88 139.35 L168.45 139.54 L169.02 139.73 L169.58 139.92 L170.15 140.11 L170.72 140.30 L171.29 140.48 L171.85 140.67 L172.42 140.86 L172.99 141.04 L173.56 141.22 L174.12 141.40 L174.69 141.58 L175.26 141.76 L175.82 141.94 L176.39 142.12 L176.96 142.29 L177.53 142.47 L178.09 142.64 L178.66 142.82 L179.23 142.99 L179.80 143.16 L180.36 143.33 L180.93 143.50 L181.50 143.67 L182.06 143.84 L182.63 144.00 L183.20 144.17 L183.77 144.34 L184.33 144.50 L184.90 144.66 L185.47 144.83 L186.03 144.99 L186.60 145.15 L187.17 145.31 L187.74 145.47 L188.30 145.62 L188.87 145.78 L189.44 145.94 L190.01 146.09 L190.57 146.25 L191.14 146.40 L191.71 146.56 L192.27 146.71 L192.84 146.86 L193.41 147.01 L193.98 147.16 L194.54 147.31 L195.11 147.46 L195.68 147.61 L196.25 147.76 L196.81 147.91 L197.38 148.05 L197.95 148.20 L198.51 148.34 L199.08 148.49 L199.65 148.63 L200.22 148.77 L200.78 148.92 L201.35 149.06 L201.92 149.20 L202.49 149.34 L203.05 149.48 L203.62 149.62 L204.19 149.76 L204.75 149.90 L205.32 150.03 L205.89 150.17 L206.46 150.31 L207.02 150.44 L207.59 150.58 L208.16 150.71 L208.73 150.84 L209.29 150.98 L209.86 151.11 L210.43 151.24 L210.99 151.37 L211.56 151.50 L212.13 151.63 L212.70 151.76 L213.26 151.89 L213.83 152.02 L214.40 152.15 L214.97 152.28 L215.53 152.41 L216.10 152.53 L216.67 152.66 L217.23 152.78 L217.80 152.91 L218.37 153.03 L218.94 153.16 L219.50 153.28 L220.07 153.40 L220.64 153.53 L221.21 153.65 L221.77 153.77 L222.34 153.89 L222.91 154.01 L223.47 154.13 L224.04 154.25 L224.61 154.37 L225.18 154.49 L225.74 154.61 L226.31 154.73 L226.88 154.84 L227.45 154.96 L228.01 155.08 L228.58 155.19 L229.15 155.31 L229.71 155.42 L230.28 155.54 L230.85 155.65 L231.42 155.77 L231.98 155.88 L232.55 156.00 L233.12 156.11 L233.69 156.22 L234.25 156.33 L234.82 156.44 L235.39 156.56 L235.95 156.67 L236.52 156.78 L237.09 156.89 L237.66 157.00 L238.22 157.11 L238.79 157.21 L239.36 157.32 L239.93 157.43 L240.49 157.54 L241.06 157.65 L241.63 157.75 L242.19 157.86 L242.76 157.97 L243.33 158.07 L243.90 158.18 L244.46 158.28 L245.03 158.39 L245.60 158.49 L246.17 158.60 L246.73 158.70 L247.30 158.80 L247.87 158.91 L248.43 159.01 L249.00 159.11 L249.57 159.21 L250.14 159.31 L250.70 159.42 L251.27 159.52 L251.84 159.62 L252.41 159.72 L252.97 159.82 L253.54 159.92 L254.11 160.02 L254.67 160.12 L255.24 160.21 L255.81 160.31 L256.38 160.41 L256.94 160.51 L257.51 160.61 L258.08 160.70 L258.65 160.80 L259.21 160.90 L259.78 160.99 L260.35 161.09 L260.91 161.19 L261.48 161.28 L262.05 161.38 L262.62 161.47 L263.18 161.57 L263.75 161.66 L264.32 161.75 L264.89 161.85 L265.45 161.94 L266.02 162.03 L266.59 162.13 L267.15 162.22 L267.72 162.31 L268.29 162.40 L268.86 162.50 L269.42 162.59 L269.99 162.68 L270.56 162.77 L271.13 162.86 L271.69 162.95 L272.26 163.04 L272.83 163.13 L273.39 163.22 L273.96 163.31 L274.53 163.40 L275.10 163.49 L275.66 163.58 L276.23 163.66 L276.80 163.75 L277.37 163.84 L277.93 163.93 L278.50 164.02 L279.07 164.10 L279.63 164.19 L280.20 164.28 L280.77 164.36 L281.34 164.45 L281.90 164.53 L282.47 164.62 L283.04 164.71 L283.60 164.79 L284.17 164.88 L284.74 164.96 L285.31 165.05 L285.87 165.13 L286.44 165.21 L287.01 165.30 L287.58 165.38 L288.14 165.46 L288.71 165.55 L289.28 165.63 L289.84 165.71 L290.41 165.80 L290.98 165.88 L291.55 165.96 L292.11 166.04 L292.68 166.12 L293.25 166.21 L293.82 166.29 L294.38 166.37 L294.95 166.45 L295.52 166.53 L296.08 166.61 L296.65 166.69 L297.22 166.77 L297.79 166.85 L298.35 166.93 L298.92 167.01 L299.49 167.09 L300.06 167.17 L300.62 167.24 L301.19 167.32 L301.76 167.40 L302.32 167.48 L302.89 167.56 L303.46 167.64 L304.03 167.71 L304.59 167.79 L305.16 167.87 L305.73 167.94 L306.30 168.02 L306.86 168.10 L307.43 168.17 L308.00 168.25 L308.56 168.33 L309.13 168.40 L309.70 168.48 L310.27 168.55 L310.83 168.63 L311.40 168.70 L311.97 168.78 L312.54 168.85 L313.10 168.93 L313.67 169.00 L314.24 169.08 L314.80 169.15 L315.37 169.22 L315.94 169.30 L316.51 169.37 L317.07 169.44 L317.64 169.52 L318.21 169.59 L318.78 169.66 L319.34 169.74 L319.91 169.81 L320.48 169.88 L321.04 169.95 L321.61 170.02 L322.18 170.10 L322.75 170.17 L323.31 170.24 L323.88 170.31 L324.45 170.38 L325.02 170.45 L325.58 170.52 L326.15 170.59 L326.72 170.67 L327.28 170.74 L327.85 170.81 L328.42 170.88 L328.99 170.95 L329.55 171.02 L330.12 171.08 L330.69 171.15 L331.26 171.22 L331.82 171.29 L332.39 171.36 L332.96 171.43 L333.52 171.50 L334.09 171.57 L334.66 171.64 L335.23 171.70 L335.79 171.77 L336.36 171.84 L336.93 171.91 L337.50 171.97 L338.06 172.04 L338.63 172.11 L339.20 172.18 L339.76 172.24 L340.33 172.31 L340.90 172.38 L341.47 172.44 L342.03 172.51 L342.60 172.58 L343.17 172.64 L343.74 172.71 L344.30 172.77 L344.87 172.84 L345.44 172.91 L346.00 172.97 L346.57 173.04 L347.14 173.10 L347.71 173.17 L348.27 173.23 L348.84 173.30 L349.41 173.36 L349.98 173.43 L350.54 173.49 L351.11 173.55 L351.68 173.62 L352.24 173.68 L352.81 173.75 L353.38 173.81 L353.95 173.87 L354.51 173.94 L355.08 174.00 L355.65 174.06 L356.22 174.13 L356.78 174.19 L357.35 174.25 L357.92 174.31 L358.48 174.38 L359.05 174.44 L359.62 174.50 L360.19 174.56 L360.75 174.63 L361.32 174.69 L361.89 174.75 L362.46 174.81 L363.02 174.87 L363.59 174.93 L364.16 175.00 L364.72 175.06 L365.29 175.12 L365.86 175.18 L366.43 175.24 L366.99 175.30 L367.56 175.36 L368.13 175.42 L368.70 175.48 L369.26 175.54 L369.83 175.60 L370.40 175.66 L370.96 175.72 L371.53 175.78 L372.10 175.84 L372.67 175.90 L373.23 175.96 L373.80 176.02 L374.37 176.08 L374.93 176.14 L375.50 176.20 L376.07 176.26 L376.64 176.31 L377.20 176.37 L377.77 176.43 L378.34 176.49 L378.91 176.55 L379.47 176.61 L380.04 176.66 L380.61 176.72 L381.17 176.78 L381.74 176.84 L382.31 176.90 L382.88 176.95 L383.44 177.01 L384.01 177.07 L384.58 177.12 L385.15 177.18 L385.71 177.24 L386.28 177.30 L386.85 177.35 L387.41 177.41 L387.98 177.47 L388.55 177.52 L389.12 177.58 L389.68 177.64 L390.25 177.69 L390.82 177.75 L391.39 177.80 L391.95 177.86 L392.52 177.92 L393.09 177.97 L393.65 178.03 L394.22 178.08 L394.79 178.14 L395.36 178.19 L395.92 178.25 L396.49 178.30 L397.06 178.36 L397.63 178.41 L398.19 178.47 L398.76 178.52 L399.33 178.58 L399.89 178.63 L400.46 178.69 L401.03 178.74 L401.60 178.79 L402.16 178.85 L402.73 178.90 L403.30 178.96 L403.87 179.01 L404.43 179.06 L405.00 179.12 L405.57 179.17 L406.13 179.22 L406.70 179.28 L407.27 179.33 L407.84 179.38 L408.40 179.44 L408.97 179.49 L409.54 179.54 L410.11 179.60 L410.67 179.65 L411.24 179.70 L411.81 179.75 L412.37 179.81 L412.94 179.86 L413.51 179.91 L414.08 179.96 L414.64 180.02 L415.21 180.07 L415.78 180.12 L416.35 180.17 L416.91 180.22 L417.48 180.28 L418.05 180.33 L418.61 180.38 L419.18 180.43 L419.75 180.48 L420.32 180.53 L420.88 180.58 L421.45 180.63 L422.02 180.69 L422.59 180.74 L423.15 180.79 L423.72 180.84 L424.29 180.89 L424.85 180.94 L425.42 180.99 L425.99 181.04 L426.56 181.09 L427.12 181.14 L427.69 181.19 L428.26 181.24 L428.83 181.29 L429.39 181.34 L429.96 181.39 L430.53 181.44 L431.09 181.49 L431.66 181.54 L432.23 181.59 L432.80 181.64 L433.36 181.69 L433.93 181.74 L434.50 181.79 L435.07 181.84 L435.63 181.89 L436.20 181.93 L436.77 181.98 L437.33 182.03 L437.90 182.08 L438.47 182.13 L439.04 182.18 L439.60 182.23 L440.17 182.27 L440.74 182.32 L441.31 182.37 L441.87 182.42 L442.44 182.47 L443.01 182.52 L443.57 182.56 L444.14 182.61 L444.71 182.66 L445.28 182.71 L445.84 182.76 L446.41 182.80 L446.98 182.85 L447.55 182.90 L448.11 182.95 L448.68 182.99 L449.25 183.04 L449.81 183.09 L450.38 183.13 L450.95 183.18 L451.52 183.23 L452.08 183.28 L452.65 183.32 L453.22 183.37 L453.79 183.42 L454.35 183.46 L454.92 183.51 L455.49 183.56 L456.05 183.60 L456.62 183.65 L457.19 183.69 L457.76 183.74 L458.32 183.79 L458.89 183.83 L459.46 183.88 L460.03 183.92 L460.59 183.97 L461.16 184.02 L461.73 184.06 L462.29 184.11 L462.86 184.15 L463.43 184.20 L464.00 184.24 L464.56 184.29 L465.13 184.34 L465.70 184.38 L466.26 184.43 L466.83 184.47 L467.40 184.52 L467.97 184.56 L468.53 184.61 L469.10 184.65 L469.67 184.70 L470.24 184.74 L470.80 184.79 L471.37 184.83 L471.94 184.87 L472.50 184.92 L473.07 184.96 L473.64 185.01 L474.21 185.05 L474.77 185.10 L475.34 185.14 L475.91 185.18 L476.48 185.23 L477.04 185.27 L477.61 185.32 L478.18 185.36 L478.74 185.40 L479.31 185.45 L479.88 185.49 L480.45 185.54 L481.01 185.58 L481.58 185.62 L482.15 185.67 L482.72 185.71 L483.28 185.75 L483.85 185.80 L484.42 185.84 L484.98 185.88 L485.55 185.92 L486.12 185.97 L486.69 186.01 L487.25 186.05 L487.82 186.10 L488.39 186.14 L488.96 186.18 L489.52 186.22 L490.09 186.27 L490.66 186.31 L491.22 186.35 L491.79 186.39 L492.36 186.44 L492.93 186.48 L493.49 186.52 L494.06 186.56 L494.63 186.61 L495.20 186.65 L495.76 186.69 L496.33 186.73 L496.90 186.77 L497.46 186.82 L498.03 186.86 L498.60 186.90 L499.17 186.94 L499.73 186.98 L500.30 187.02 L500.87 187.07 L501.44 187.11 L502.00 187.15 L502.57 187.19 L503.14 187.23 L503.70 187.27 L504.27 187.31 L504.84 187.35 L505.41 187.40 L505.97 187.44 L506.54 187.48 L507.11 187.52 L507.68 187.56 L508.24 187.60 L508.81 187.64 L509.38 187.68 L509.94 187.72 L510.51 187.76 L511.08 187.80 L511.65 187.84 L512.21 187.88 L512.78 187.93 L513.35 187.97 L513.92 188.01 L514.48 188.05 L515.05 188.09 L515.62 188.13 L516.18 188.17 L516.75 188.21 L517.32 188.25 L517.89 188.29 L518.45 188.33 L519.02 188.37 L519.59 188.41 L520.16 188.45 L520.72 188.48 L521.29 188.52 L521.86 188.56 L522.42 188.60 L522.99 188.64 L523.56 188.68 L524.13 188.72 L524.69 188.76 L525.26 188.80 L525.83 188.84 L526.40 188.88 L526.96 188.92 L527.53 188.96 L528.10 189.00 L528.66 189.03 L529.23 189.07 L529.80 189.11 L530.37 189.15 L530.93 189.19 L531.50 189.23 L532.07 189.27 L532.64 189.31 L533.20 189.34 L533.77 189.38 L534.34 189.42 L534.90 189.46 L535.47 189.50 L536.04 189.54 L536.61 189.58 L537.17 189.61 L537.74 189.65 L538.31 189.69 L538.88 189.73 L539.44 189.77 L540.01 189.80 L540.58 189.84 L541.14 189.88 L541.71 189.92 L542.28 189.96 L542.85 189.99 L543.41 190.03 L543.98 190.07 L544.55 190.11 L545.12 190.14 L545.68 190.18 L546.25 190.22 L546.82 190.26 L547.38 190.29 L547.95 190.33 L548.52 190.37 L549.09 190.41 L549.65 190.44 L550.22 190.48 L550.79 190.52 L551.36 190.55 L551.92 190.59 L552.49 190.63 L553.06 190.67 L553.62 190.70 L554.19 190.74 L554.76 190.78 L555.33 190.81 L555.89 190.85 L556.46 190.89 L557.03 190.92 L557.60 190.96 L558.16 191.00 L558.73 191.03 L559.30 191.07 L559.86 191.11 L560.43 191.14 L561.00 191.18 L561.57 191.21 L562.13 191.25 L562.70 191.29 L563.27 191.32 L563.83 191.36 L564.40 191.40 L564.97 191.43 L565.54 191.47 L566.10 191.50 L566.67 191.54 L567.24 191.58 L567.81 191.61 L568.37 191.65 L568.94 191.68 L569.51 191.72 L570.07 191.75 L570.64 191.79 L571.21 191.83 L571.78 191.86 L572.34 191.90 L572.91 191.93 L573.48 191.97 L574.05 192.00 L574.61 192.04 L575.18 192.07 L575.75 192.11 L576.31 192.14 L576.88 192.18 L577.45 192.21 L578.02 192.25 L578.58 192.28 L579.15 192.32 L579.72 192.35 L580.29 192.39 L580.85 192.42 L581.42 192.46 L581.99 192.49 L582.55 192.53 L583.12 192.56 L583.69 192.60 L584.26 192.63 L584.82 192.67 L585.39 192.70 L585.96 192.74 L586.53 192.77 L587.09 192.81 L587.66 192.84 L588.23 192.88 L588.79 192.91 L589.36 192.94 L589.93 192.98 L590.50 193.01 L591.06 193.05 L591.63 193.08 L592.20 193.12 L592.77 193.15 L593.33 193.18 L593.90 193.22 L594.47 193.25 L595.03 193.29 L595.60 193.32 L596.17 193.35 L596.74 193.39 L597.30 193.42 L597.87 193.45 L598.44 193.49 L599.01 193.52 L599.57 193.56 L600.14 193.59 L600.71 193.62 L601.27 193.66 L601.84 193.69 L602.41 193.72 L602.98 193.76 L603.54 193.79 L604.11 193.82 L604.68 193.86 L605.25 193.89 L605.81 193.92 L606.38 193.96 L606.95 193.99 L607.51 194.02 L608.08 194.06 L608.65 194.09 L609.22 194.12 L609.78 194.16 L610.35 194.19 L610.92 194.22 L611.49 194.25 L612.05 194.29 L612.62 194.32 L613.19 194.35 L613.75 194.39 L614.32 194.42 L614.89 194.45 L615.46 194.48 L616.02 194.52 L616.59 194.55 L617.16 194.58 L617.73 194.61 L618.29 194.65 L618.86 194.68 L619.43 194.71 L619.99 194.74 L620.56 194.78 L621.13 194.81 L621.70 194.84 L622.26 194.87 L622.83 194.91 L623.40 194.94 L623.97 194.97 L624.53 195.00 L625.10 195.03 L625.67 195.07 L626.23 195.10 L626.80 195.13 L627.37 195.16 L627.94 195.19 L628.50 195.23 L629.07 195.26 L629.64 195.29 L630.21 195.32 L630.77 195.35 L631.34 195.39 L631.91 195.42 L632.47 195.45 L633.04 195.48 L633.61 195.51 L634.18 195.54 L634.74 195.57 L635.31 195.61 L635.88 195.64 L636.45 195.67 L637.01 195.70 L637.58 195.73 L638.15 195.76 L638.71 195.79 L639.28 195.83 L639.85 195.86 L640.42 195.89 L640.98 195.92 L641.55 195.95 L642.12 195.98 L642.69 196.01 L643.25 196.04 L643.82 196.08 L644.39 196.11 L644.95 196.14 L645.52 196.17 L646.09 196.20 L646.66 196.23 L647.22 196.26 L647.79 196.29 L648.36 196.32 L648.93 196.35 L649.49 196.38 L650.06 196.41 L650.63 196.45 L651.19 196.48 L651.76 196.51 L652.33 196.54 L652.90 196.57 L653.46 196.60 L654.03 196.63 L654.60 196.66 L655.16 196.69" fill="none" stroke="#ff7f0e" stroke-width="2.500" stroke-linecap="square" stroke-linejoin="round" clip-path="url(#c0)"/>
<path d="M88.47 61.55 L89.03 63.03 L89.60 64.45 L90.17 65.81 L90.73 67.10 L91.30 68.35 L91.87 69.55 L92.44 70.70 L93.00 71.81 L93.57 72.89 L94.14 73.93 L94.70 74.93 L95.27 75.90 L95.84 76.84 L96.41 77.76 L96.97 78.65 L97.54 79.51 L98.11 80.35 L98.68 81.17 L99.24 81.97 L99.81 82.75 L100.38 83.50 L100.94 84.25 L101.51 84.97 L102.08 85.67 L102.65 86.37 L103.21 87.04 L103.78 87.70 L104.35 88.35 L104.92 88.98 L105.48 89.61 L106.05 90.22 L106.62 90.81 L107.18 91.40 L107.75 91.97 L108.32 92.54 L108.89 93.09 L109.45 93.64 L110.02 94.18 L110.59 94.70 L111.16 95.22 L111.72 95.73 L112.29 96.23 L112.86 96.72 L113.42 97.21 L113.99 97.69 L114.56 98.16 L115.13 98.62 L115.69 99.08 L116.26 99.53 L116.83 99.97 L117.40 100.41 L117.96 100.84 L118.53 101.27 L119.10 101.68 L119.66 102.10 L120.23 102.51 L120.80 102.91 L121.37 103.31 L121.93 103.70 L122.50 104.09 L123.07 104.47 L123.64 104.85 L124.20 105.23 L124.77 105.60 L125.34 105.96 L125.90 106.32 L126.47 106.68 L127.04 107.03 L127.61 107.38 L128.17 107.73 L128.74 108.07 L129.31 108.40 L129.88 108.74 L130.44 109.07 L131.01 109.39 L131.58 109.72 L132.14 110.04 L132.71 110.36 L133.28 110.67 L133.85 110.98 L134.41 111.29 L134.98 111.59 L135.55 111.89 L136.12 112.19 L136.68 112.49 L137.25 112.78 L137.82 113.07 L138.38 113.36 L138.95 113.64 L139.52 113.92 L140.09 114.20 L140.65 114.48 L141.22 114.75 L141.79 115.03 L142.36 115.30 L142.92 115.56 L143.49 115.83 L144.06 116.09 L144.62 116.35 L145.19 116.61 L145.76 116.87 L146.33 117.12 L146.89 117.38 L147.46 117.63 L148.03 117.87 L148.60 118.12 L149.16 118.36 L149.73 118.61 L150.30 118.85 L150.86 119.09 L151.43 119.32 L152.00 119.56 L152.57 119.79 L153.13 120.02 L153.70 120.25 L154.27 120.48 L154.84 120.71 L155.40 120.93 L155.97 121.16 L156.54 121.38 L157.10 121.60 L157.67 121.82 L158.24 122.03 L158.81 122.25 L159.37 122.46 L159.94 122.68 L160.51 122.89 L161.08 123.10 L161.64 123.30 L162.21 123.51 L162.78 123.72 L163.34 123.92 L163.91 124.12 L164.48 124.33 L165.05 124.53 L165.61 124.72 L166.18 124.92 L166.75 125.12 L167.32 125.31 L167.88 125.51 L168.45 125.70 L169.02 125.89 L169.58 126.08 L170.15 126.27 L170.72 126.46 L171.29 126.65 L171.85 126.83 L172.42 127.02 L172.99 127.20 L173.56 127.38 L174.12 127.56 L174.69 127.74 L175.26 127.92 L175.82 128.10 L176.39 128.28 L176.96 128.46 L177.53 128.63 L178.09 128.81 L178.66 128.98 L179.23 129.15 L179.80 129.32 L180.36 129.49 L180.93 129.66 L181.50 129.83 L182.06 130.00 L182.63 130.17 L183.20 130.33 L183.77 130.50 L184.33 130.66 L184.90 130.82 L185.47 130.99 L186.03 131.15 L186.60 131.31 L187.17 131.47 L187.74 131.63 L188.30 131.79 L188.87 131.94 L189.44 132.10 L190.01 132.26 L190.57 132.41 L191.14 132.57 L191.71 132.72 L192.27 132.87 L192.84 133.02 L193.41 133.18 L193.98 133.33 L194.54 133.48 L195.11 133.63 L195.68 133.77 L196.25 133.92 L196.81 134.07 L197.38 134.22 L197.95 134.36 L198.51 134.51 L199.08 134.65 L199.65 134.79 L200.22 134.94 L200.78 135.08 L201.35 135.22 L201.92 135.36 L202.49 135.50 L203.05 135.64 L203.62 135.78 L204.19 135.92 L204.75 136.06 L205.32 136.19 L205.89 136.33 L206.46 136.47 L207.02 136.60 L207.59 136.74 L208.16 136.87 L208.73 137.01 L209.29 137.14 L209.86 137.27 L210.43 137.40 L210.99 137.53 L211.56 137.67 L212.13 137.80 L212.70 137.93 L213.26 138.06 L213.83 138.18 L214.40 138.31 L214.97 138.44 L215.53 138.57 L216.10 138.69 L216.67 138.82 L217.23 138.95 L217.80 139.07 L218.37 139.19 L218.94 139.32 L219.50 139.44 L220.07 139.57 L220.64 139.69 L221.21 139.81 L221.77 139.93 L222.34 140.05 L222.91 140.17 L223.47 140.29 L224.04 140.41 L224.61 140.53 L225.18 140.65 L225.74 140.77 L226.31 140.89 L226.88 141.01 L227.45 141.12 L228.01 141.24 L228.58 141.36 L229.15 141.47 L229.71 141.59 L230.28 141.70 L230.85 141.82 L231.42 141.93 L231.98 142.04 L232.55 142.16 L233.12 142.27 L233.69 142.38 L234.25 142.49 L234.82 142.61 L235.39 142.72 L235.95 142.83 L236.52 142.94 L237.09 143.05 L237.66 143.16 L238.22 143.27 L238.79 143.38 L239.36 143.48 L239.93 143.59 L240.49 143.70 L241.06 143.81 L241.63 143.91 L242.19 144.02 L242.76 144.13 L243.33 144.23 L243.90 144.34 L244.46 144.44 L245.03 144.55 L245.60 144.65 L246.17 144.76 L246.73 144.86 L247.30 144.96 L247.87 145.07 L248.43 145.17 L249.00 145.27 L249.57 145.37 L250.14 145.48 L250.70 145.58 L251.27 145.68 L251.84 145.78 L252.41 145.88 L252.97 145.98 L253.54 146.08 L254.11 146.18 L254.67 146.28 L255.24 146.38 L255.81 146.48 L256.38 146.57 L256.94 146.67 L257.51 146.77 L258.08 146.87 L258.65 146.96 L259.21 147.06 L259.78 147.16 L260.35 147.25 L260.91 147.35 L261.48 147.44 L262.05 147.54 L262.62 147.63 L263.18 147.73 L263.75 147.82 L264.32 147.92 L264.89 148.01 L265.45 148.10 L266.02 148.20 L266.59 148.29 L267.15 148.38 L267.72 148.47 L268.29 148.57 L268.86 148.66 L269.42 148.75 L269.99 148.84 L270.56 148.93 L271.13 149.02 L271.69 149.11 L272.26 149.20 L272.83 149.29 L273.39 149.38 L273.96 149.47 L274.53 149.56 L275.10 149.65 L275.66 149.74 L276.23 149.83 L276.80 149.91 L277.37 150.00 L277.93 150.09 L278.50 150.18 L279.07 150.26 L279.63 150.35 L280.20 150.44 L280.77 150.52 L281.34 150.61 L281.90 150.70 L282.47 150.78 L283.04 150.87 L283.60 150.95 L284.17 151.04 L284.74 151.12 L285.31 151.21 L285.87 151.29 L286.44 151.38 L287.01 151.46 L287.58 151.54 L288.14 151.63 L288.71 151.71 L289.28 151.79 L289.84 151.88 L290.41 151.96 L290.98 152.04 L291.55 152.12 L292.11 152.20 L292.68 152.29 L293.25 152.37 L293.82 152.45 L294.38 152.53 L294.95 152.61 L295.52 152.69 L296.08 152.77 L296.65 152.85 L297.22 152.93 L297.79 153.01 L298.35 153.09 L298.92 153.17 L299.49 153.25 L300.06 153.33 L300.62 153.41 L301.19 153.48 L301.76 153.56 L302.32 153.64 L302.89 153.72 L303.46 153.80 L304.03 153.87 L304.59 153.95 L305.16 154.03 L305.73 154.11 L306.30 154.18 L306.86 154.26 L307.43 154.34 L308.00 154.41 L308.56 154.49 L309.13 154.56 L309.70 154.64 L310.27 154.71 L310.83 154.79 L311.40 154.87 L311.97 154.94 L312.54 155.01 L313.10 155.09 L313.67 155.16 L314.24 155.24 L314.80 155.31 L315.37 155.39 L315.94 155.46 L316.51 155.53 L317.07 155.61 L317.64 155.68 L318.21 155.75 L318.78 155.83 L319.34 155.90 L319.91 155.97 L320.48 156.04 L321.04 156.11 L321.61 156.19 L322.18 156.26 L322.75 156.33 L323.31 156.40 L323.88 156.47 L324.45 156.54 L325.02 156.62 L325.58 156.69 L326.15 156.76 L326.72 156.83 L327.28 156.90 L327.85 156.97 L328.42 157.04 L328.99 157.11 L329.55 157.18 L330.12 157.25 L330.69 157.32 L331.26 157.39 L331.82 157.45 L332.39 157.52 L332.96 157.59 L333.52 157.66 L334.09 157.73 L334.66 157.80 L335.23 157.87 L335.79 157.93 L336.36 158.00 L336.93 158.07 L337.50 158.14 L338.06 158.20 L338.63 158.27 L339.20 158.34 L339.76 158.41 L340.33 158.47 L340.90 158.54 L341.47 158.61 L342.03 158.67 L342.60 158.74 L343.17 158.80 L343.74 158.87 L344.30 158.94 L344.87 159.00 L345.44 159.07 L346.00 159.13 L346.57 159.20 L347.14 159.26 L347.71 159.33 L348.27 159.39 L348.84 159.46 L349.41 159.52 L349.98 159.59 L350.54 159.65 L351.11 159.72 L351.68 159.78 L352.24 159.84 L352.81 159.91 L353.38 159.97 L353.95 160.03 L354.51 160.10 L355.08 160.16 L355.65 160.22 L356.22 160.29 L356.78 160.35 L357.35 160.41 L357.92 160.48 L358.48 160.54 L359.05 160.60 L359.62 160.66 L360.19 160.73 L360.75 160.79 L361.32 160.85 L361.89 160.91 L362.46 160.97 L363.02 161.03 L363.59 161.10 L364.16 161.16 L364.72 161.22 L365.29 161.28 L365.86 161.34 L366.43 161.40 L366.99 161.46 L367.56 161.52 L368.13 161.58 L368.70 161.64 L369.26 161.70 L369.83 161.76 L370.40 161.82 L370.96 161.88 L371.53 161.94 L372.10 162.00 L372.67 162.06 L373.23 162.12 L373.80 162.18 L374.37 162.24 L374.93 162.30 L375.50 162.36 L376.07 162.42 L376.64 162.48 L377.20 162.53 L377.77 162.59 L378.34 162.65 L378.91 162.71 L379.47 162.77 L380.04 162.83 L380.61 162.88 L381.17 162.94 L381.74 163.00 L382.31 163.06 L382.88 163.11 L383.44 163.17 L384.01 163.23 L384.58 163.29 L385.15 163.34 L385.71 163.40 L386.28 163.46 L386.85 163.51 L387.41 163.57 L387.98 163.63 L388.55 163.68 L389.12 163.74 L389.68 163.80 L390.25 163.85 L390.82 163.91 L391.39 163.97 L391.95 164.02 L392.52 164.08 L393.09 164.13 L393.65 164.19 L394.22 164.24 L394.79 164.30 L395.36 164.35 L395.92 164.41 L396.49 164.46 L397.06 164.52 L397.63 164.57 L398.19 164.63 L398.76 164.68 L399.33 164.74 L399.89 164.79 L400.46 164.85 L401.03 164.90 L401.60 164.96 L402.16 165.01 L402.73 165.06 L403.30 165.12 L403.87 165.17 L404.43 165.23 L405.00 165.28 L405.57 165.33 L406.13 165.39 L406.70 165.44 L407.27 165.49 L407.84 165.55 L408.40 165.60 L408.97 165.65 L409.54 165.71 L410.11 165.76 L410.67 165.81 L411.24 165.86 L411.81 165.92 L412.37 165.97 L412.94 166.02 L413.51 166.07 L414.08 166.13 L414.64 166.18 L415.21 166.23 L415.78 166.28 L416.35 166.33 L416.91 166.39 L417.48 166.44 L418.05 166.49 L418.61 166.54 L419.18 166.59 L419.75 166.64 L420.32 166.69 L420.88 166.75 L421.45 166.80 L422.02 166.85 L422.59 166.90 L423.15 166.95 L423.72 167.00 L424.29 167.05 L424.85 167.10 L425.42 167.15 L425.99 167.20 L426.56 167.25 L427.12 167.30 L427.69 167.35 L428.26 167.40 L428.83 167.45 L429.39 167.50 L429.96 167.55 L430.53 167.60 L431.09 167.65 L431.66 167.70 L432.23 167.75 L432.80 167.80 L433.36 167.85 L433.93 167.90 L434.50 167.95 L435.07 168.00 L435.63 168.05 L436.20 168.10 L436.77 168.14 L437.33 168.19 L437.90 168.24 L438.47 168.29 L439.04 168.34 L439.60 168.39 L440.17 168.44 L440.74 168.49 L441.31 168.53 L441.87 168.58 L442.44 168.63 L443.01 168.68 L443.57 168.73 L444.14 168.77 L444.71 168.82 L445.28 168.87 L445.84 168.92 L446.41 168.96 L446.98 169.01 L447.55 169.06 L448.11 169.11 L448.68 169.15 L449.25 169.20 L449.81 169.25 L450.38 169.30 L450.95 169.34 L451.52 169.39 L452.08 169.44 L452.65 169.48 L453.22 169.53 L453.79 169.58 L454.35 169.62 L454.92 169.67 L455.49 169.72 L456.05 169.76 L456.62 169.81 L457.19 169.86 L457.76 169.90 L458.32 169.95 L458.89 169.99 L459.46 170.04 L460.03 170.09 L460.59 170.13 L461.16 170.18 L461.73 170.22 L462.29 170.27 L462.86 170.32 L463.43 170.36 L464.00 170.41 L464.56 170.45 L465.13 170.50 L465.70 170.54 L466.26 170.59 L466.83 170.63 L467.40 170.68 L467.97 170.72 L468.53 170.77 L469.10 170.81 L469.67 170.86 L470.24 170.90 L470.80 170.95 L471.37 170.99 L471.94 171.04 L472.50 171.08 L473.07 171.13 L473.64 171.17 L474.21 171.21 L474.77 171.26 L475.34 171.30 L475.91 171.35 L476.48 171.39 L477.04 171.43 L477.61 171.48 L478.18 171.52 L478.74 171.57 L479.31 171.61 L479.88 171.65 L480.45 171.70 L481.01 171.74 L481.58 171.78 L482.15 171.83 L482.72 171.87 L483.28 171.91 L483.85 171.96 L484.42 172.00 L484.98 172.04 L485.55 172.09 L486.12 172.13 L486.69 172.17 L487.25 172.22 L487.82 172.26 L488.39 172.30 L488.96 172.34 L489.52 172.39 L490.09 172.43 L490.66 172.47 L491.22 172.51 L491.79 172.56 L492.36 172.60 L492.93 172.64 L493.49 172.68 L494.06 172.73 L494.63 172.77 L495.20 172.81 L495.76 172.85 L496.33 172.89 L496.90 172.94 L497.46 172.98 L498.03 173.02 L498.60 173.06 L499.17 173.10 L499.73 173.14 L500.30 173.19 L500.87 173.23 L501.44 173.27 L502.00 173.31 L502.57 173.35 L503.14 173.39 L503.70 173.43 L504.27 173.48 L504.84 173.52 L505.41 173.56 L505.97 173.60 L506.54 173.64 L507.11 173.68 L507.68 173.72 L508.24 173.76 L508.81 173.80 L509.38 173.84 L509.94 173.88 L510.51 173.93 L511.08 173.97 L511.65 174.01 L512.21 174.05 L512.78 174.09 L513.35 174.13 L513.92 174.17 L514.48 174.21 L515.05 174.25 L515.62 174.29 L516.18 174.33 L516.75 174.37 L517.32 174.41 L517.89 174.45 L518.45 174.49 L519.02 174.53 L519.59 174.57 L520.16 174.61 L520.72 174.65 L521.29 174.69 L521.86 174.73 L522.42 174.77 L522.99 174.80 L523.56 174.84 L524.13 174.88 L524.69 174.92 L525.26 174.96 L525.83 175.00 L526.40 175.04 L526.96 175.08 L527.53 175.12 L528.10 175.16 L528.66 175.20 L529.23 175.24 L529.80 175.27 L530.37 175.31 L530.93 175.35 L531.50 175.39 L532.07 175.43 L532.64 175.47 L533.20 175.51 L533.77 175.55 L534.34 175.58 L534.90 175.62 L535.47 175.66 L536.04 175.70 L536.61 175.74 L537.17 175.78 L537.74 175.81 L538.31 175.85 L538.88 175.89 L539.44 175.93 L540.01 175.97 L540.58 176.00 L541.14 176.04 L541.71 176.08 L542.28 176.12 L542.85 176.16 L543.41 176.19 L543.98 176.23 L544.55 176.27 L545.12 176.31 L545.68 176.34 L546.25 176.38 L546.82 176.42 L547.38 176.46 L547.95 176.49 L548.52 176.53 L549.09 176.57 L549.65 176.60 L550.22 176.64 L550.79 176.68 L551.36 176.72 L551.92 176.75 L552.49 176.79 L553.06 176.83 L553.62 176.86 L554.19 176.90 L554.76 176.94 L555.33 176.97 L555.89 177.01 L556.46 177.05 L557.03 177.08 L557.60 177.12 L558.16 177.16 L558.73 177.19 L559.30 177.23 L559.86 177.27 L560.43 177.30 L561.00 177.34 L561.57 177.38 L562.13 177.41 L562.70 177.45 L563.27 177.49 L563.83 177.52 L564.40 177.56 L564.97 177.59 L565.54 177.63 L566.10 177.67 L566.67 177.70 L567.24 177.74 L567.81 177.77 L568.37 177.81 L568.94 177.84 L569.51 177.88 L570.07 177.92 L570.64 177.95 L571.21 177.99 L571.78 178.02 L572.34 178.06 L572.91 178.09 L573.48 178.13 L574.05 178.16 L574.61 178.20 L575.18 178.24 L575.75 178.27 L576.31 178.31 L576.88 178.34 L577.45 178.38 L578.02 178.41 L578.58 178.45 L579.15 178.48 L579.72 178.52 L580.29 178.55 L580.85 178.59 L581.42 178.62 L581.99 178.66 L582.55 178.69 L583.12 178.73 L583.69 178.76 L584.26 178.80 L584.82 178.83 L585.39 178.86 L585.96 178.90 L586.53 178.93 L587.09 178.97 L587.66 179.00 L588.23 179.04 L588.79 179.07 L589.36 179.11 L589.93 179.14 L590.50 179.17 L591.06 179.21 L591.63 179.24 L592.20 179.28 L592.77 179.31 L593.33 179.35 L593.90 179.38 L594.47 179.41 L595.03 179.45 L595.60 179.48 L596.17 179.51 L596.74 179.55 L597.30 179.58 L597.87 179.62 L598.44 179.65 L599.01 179.68 L599.57 179.72 L600.14 179.75 L600.71 179.78 L601.27 179.82 L601.84 179.85 L602.41 179.89 L602.98 179.92 L603.54 179.95 L604.11 179.99 L604.68 180.02 L605.25 180.05 L605.81 180.09 L606.38 180.12 L606.95 180.15 L607.51 180.19 L608.08 180.22 L608.65 180.25 L609.22 180.28 L609.78 180.32 L610.35 180.35 L610.92 180.38 L611.49 180.42 L612.05 180.45 L612.62 180.48 L613.19 180.51 L613.75 180.55 L614.32 180.58 L614.89 180.61 L615.46 180.65 L616.02 180.68 L616.59 180.71 L617.16 180.74 L617.73 180.78 L618.29 180.81 L618.86 180.84 L619.43 180.87 L619.99 180.91 L620.56 180.94 L621.13 180.97 L621.70 181.00 L622.26 181.04 L622.83 181.07 L623.40 181.10 L623.97 181.13 L624.53 181.16 L625.10 181.20 L625.67 181.23 L626.23 181.26 L626.80 181.29 L627.37 181.32 L627.94 181.36 L628.50 181.39 L629.07 181.42 L629.64 181.45 L630.21 181.48 L630.77 181.52 L631.34 181.55 L631.91 181.58 L632.47 181.61 L633.04 181.64 L633.61 181.67 L634.18 181.71 L634.74 181.74 L635.31 181.77 L635.88 181.80 L636.45 181.83 L637.01 181.86 L637.58 181.89 L638.15 181.93 L638.71 181.96 L639.28 181.99 L639.85 182.02 L640.42 182.05 L640.98 182.08 L641.55 182.11 L642.12 182.14 L642.69 182.18 L643.25 182.21 L643.82 182.24 L644.39 182.27 L644.95 182.30 L645.52 182.33 L646.09 182.36 L646.66 182.39 L647.22 182.42 L647.79 182.45 L648.36 182.48 L648.93 182.52 L649.49 182.55 L650.06 182.58 L650.63 182.61 L651.19 182.64 L651.76 182.67 L652.33 182.70 L652.90 182.73 L653.46 182.76 L654.03 182.79 L654.60 182.82 L655.16 182.85" fill="none" stroke="#2ca02c" stroke-width="2.500" stroke-linecap="square" stroke-linejoin="round" clip-path="url(#c0)"/>
<path d="M88.47 40.06 L89.03 41.54 L89.60 42.96 L90.17 44.31 L90.73 45.61 L91.30 46.86 L91.87 48.06 L92.44 49.21 L93.00 50.32 L93.57 51.40 L94.14 52.43 L94.70 53.44 L95.27 54.41 L95.84 55.35 L96.41 56.27 L96.97 57.16 L97.54 58.02 L98.11 58.86 L98.68 59.68 L99.24 60.48 L99.81 61.25 L100.38 62.01 L100.94 62.75 L101.51 63.48 L102.08 64.18 L102.65 64.87 L103.21 65.55 L103.78 66.21 L104.35 66.86 L104.92 67.49 L105.48 68.11 L106.05 68.72 L106.62 69.32 L107.18 69.91 L107.75 70.48 L108.32 71.05 L108.89 71.60 L109.45 72.15 L110.02 72.68 L110.59 73.21 L111.16 73.73 L111.72 74.24 L112.29 74.74 L112.86 75.23 L113.42 75.72 L113.99 76.19 L114.56 76.66 L115.13 77.13 L115.69 77.58 L116.26 78.03 L116.83 78.48 L117.40 78.92 L117.96 79.35 L118.53 79.77 L119.10 80.19 L119.66 80.61 L120.23 81.01 L120.80 81.42 L121.37 81.82 L121.93 82.21 L122.50 82.60 L123.07 82.98 L123.64 83.36 L124.20 83.73 L124.77 84.10 L125.34 84.47 L125.90 84.83 L126.47 85.19 L127.04 85.54 L127.61 85.89 L128.17 86.23 L128.74 86.57 L129.31 86.91 L129.88 87.25 L130.44 87.58 L131.01 87.90 L131.58 88.23 L132.14 88.55 L132.71 88.86 L133.28 89.18 L133.85 89.49 L134.41 89.79 L134.98 90.10 L135.55 90.40 L136.12 90.70 L136.68 90.99 L137.25 91.29 L137.82 91.58 L138.38 91.86 L138.95 92.15 L139.52 92.43 L140.09 92.71 L140.65 92.99 L141.22 93.26 L141.79 93.53 L142.36 93.80 L142.92 94.07 L143.49 94.34 L144.06 94.60 L144.62 94.86 L145.19 95.12 L145.76 95.38 L146.33 95.63 L146.89 95.88 L147.46 96.13 L148.03 96.38 L148.60 96.63 L149.16 96.87 L149.73 97.11 L150.30 97.36 L150.86 97.59 L151.43 97.83 L152.00 98.07 L152.57 98.30 L153.13 98.53 L153.70 98.76 L154.27 98.99 L154.84 99.22 L155.40 99.44 L155.97 99.66 L156.54 99.89 L157.10 100.11 L157.67 100.32 L158.24 100.54 L158.81 100.76 L159.37 100.97 L159.94 101.18 L160.51 101.39 L161.08 101.60 L161.64 101.81 L162.21 102.02 L162.78 102.22 L163.34 102.43 L163.91 102.63 L164.48 102.83 L165.05 103.03 L165.61 103.23 L166.18 103.43 L166.75 103.63 L167.32 103.82 L167.88 104.02 L168.45 104.21 L169.02 104.40 L169.58 104.59 L170.15 104.78 L170.72 104.97 L171.29 105.15 L171.85 105.34 L172.42 105.52 L172.99 105.71 L173.56 105.89 L174.12 106.07 L174.69 106.25 L175.26 106.43 L175.82 106.61 L176.39 106.79 L176.96 106.96 L177.53 107.14 L178.09 107.31 L178.66 107.49 L179.23 107.66 L179.80 107.83 L180.36 108.00 L180.93 108.17 L181.50 108.34 L182.06 108.51 L182.63 108.67 L183.20 108.84 L183.77 109.00 L184.33 109.17 L184.90 109.33 L185.47 109.49 L186.03 109.66 L186.60 109.82 L187.17 109.98 L187.74 110.14 L188.30 110.29 L188.87 110.45 L189.44 110.61 L190.01 110.76 L190.57 110.92 L191.14 111.07 L191.71 111.23 L192.27 111.38 L192.84 111.53 L193.41 111.68 L193.98 111.83 L194.54 111.98 L195.11 112.13 L195.68 112.28 L196.25 112.43 L196.81 112.58 L197.38 112.72 L197.95 112.87 L198.51 113.01 L199.08 113.16 L199.65 113.30 L200.22 113.44 L200.78 113.59 L201.35 113.73 L201.92 113.87 L202.49 114.01 L203.05 114.15 L203.62 114.29 L204.19 114.43 L204.75 114.56 L205.32 114.70 L205.89 114.84 L206.46 114.97 L207.02 115.11 L207.59 115.24 L208.16 115.38 L208.73 115.51 L209.29 115.65 L209.86 115.78 L210.43 115.91 L210.99 116.04 L211.56 116.17 L212.13 116.30 L212.70 116.43 L213.26 116.56 L213.83 116.69 L214.40 116.82 L214.97 116.95 L215.53 117.07 L216.10 117.20 L216.67 117.33 L217.23 117.45 L217.80 117.58 L218.37 117.70 L218.94 117.83 L219.50 117.95 L220.07 118.07 L220.64 118.20 L221.21 118.32 L221.77 118.44 L222.34 118.56 L222.91 118.68 L223.47 118.80 L224.04 118.92 L224.61 119.04 L225.18 119.16 L225.74 119.28 L226.31 119.40 L226.88 119.51 L227.45 119.63 L228.01 119.75 L228.58 119.86 L229.15 119.98 L229.71 120.09 L230.28 120.21 L230.85 120.32 L231.42 120.44 L231.98 120.55 L232.55 120.66 L233.12 120.78 L233.69 120.89 L234.25 121.00 L234.82 121.11 L235.39 121.22 L235.95 121.34 L236.52 121.45 L237.09 121.56 L237.66 121.67 L238.22 121.77 L238.79 121.88 L239.36 121.99 L239.93 122.10 L240.49 122.21 L241.06 122.31 L241.63 122.42 L242.19 122.53 L242.76 122.63 L243.33 122.74 L243.90 122.85 L244.46 122.95 L245.03 123.06 L245.60 123.16 L246.17 123.26 L246.73 123.37 L247.30 123.47 L247.87 123.57 L248.43 123.68 L249.00 123.78 L249.57 123.88 L250.14 123.98 L250.70 124.08 L251.27 124.19 L251.84 124.29 L252.41 124.39 L252.97 124.49 L253.54 124.59 L254.11 124.69 L254.67 124.79 L255.24 124.88 L255.81 124.98 L256.38 125.08 L256.94 125.18 L257.51 125.28 L258.08 125.37 L258.65 125.47 L259.21 125.57 L259.78 125.66 L260.35 125.76 L260.91 125.85 L261.48 125.95 L262.05 126.05 L262.62 126.14 L263.18 126.23 L263.75 126.33 L264.32 126.42 L264.89 126.52 L265.45 126.61 L266.02 126.70 L266.59 126.80 L267.15 126.89 L267.72 126.98 L268.29 127.07 L268.86 127.17 L269.42 127.26 L269.99 127.35 L270.56 127.44 L271.13 127.53 L271.69 127.62 L272.26 127.71 L272.83 127.80 L273.39 127.89 L273.96 127.98 L274.53 128.07 L275.10 128.16 L275.66 128.25 L276.23 128.33 L276.80 128.42 L277.37 128.51 L277.93 128.60 L278.50 128.68 L279.07 128.77 L279.63 128.86 L280.20 128.95 L280.77 129.03 L281.34 129.12 L281.90 129.20 L282.47 129.29 L283.04 129.38 L283.60 129.46 L284.17 129.55 L284.74 129.63 L285.31 129.71 L285.87 129.80 L286.44 129.88 L287.01 129.97 L287.58 130.05 L288.14 130.13 L288.71 130.22 L289.28 130.30 L289.84 130.38 L290.41 130.47 L290.98 130.55 L291.55 130.63 L292.11 130.71 L292.68 130.79 L293.25 130.87 L293.82 130.96 L294.38 131.04 L294.95 131.12 L295.52 131.20 L296.08 131.28 L296.65 131.36 L297.22 131.44 L297.79 131.52 L298.35 131.60 L298.92 131.68 L299.49 131.76 L300.06 131.83 L300.62 131.91 L301.19 131.99 L301.76 132.07 L302.32 132.15 L302.89 132.23 L303.46 132.30 L304.03 132.38 L304.59 132.46 L305.16 132.54 L305.73 132.61 L306.30 132.69 L306.86 132.77 L307.43 132.84 L308.00 132.92 L308.56 133.00 L309.13 133.07 L309.70 133.15 L310.27 133.22 L310.83 133.30 L311.40 133.37 L311.97 133.45 L312.54 133.52 L313.10 133.60 L313.67 133.67 L314.24 133.75 L314.80 133.82 L315.37 133.89 L315.94 133.97 L316.51 134.04 L317.07 134.11 L317.64 134.19 L318.21 134.26 L318.78 134.33 L319.34 134.41 L319.91 134.48 L320.48 134.55 L321.04 134.62 L321.61 134.69 L322.18 134.77 L322.75 134.84 L323.31 134.91 L323.88 134.98 L324.45 135.05 L325.02 135.12 L325.58 135.19 L326.15 135.26 L326.72 135.33 L327.28 135.40 L327.85 135.47 L328.42 135.54 L328.99 135.61 L329.55 135.68 L330.12 135.75 L330.69 135.82 L331.26 135.89 L331.82 135.96 L332.39 136.03 L332.96 136.10 L333.52 136.17 L334.09 136.24 L334.66 136.30 L335.23 136.37 L335.79 136.44 L336.36 136.51 L336.93 136.58 L337.50 136.64 L338.06 136.71 L338.63 136.78 L339.20 136.85 L339.76 136.91 L340.33 136.98 L340.90 137.05 L341.47 137.11 L342.03 137.18 L342.60 137.25 L343.17 137.31 L343.74 137.38 L344.30 137.44 L344.87 137.51 L345.44 137.57 L346.00 137.64 L346.57 137.71 L347.14 137.77 L347.71 137.84 L348.27 137.90 L348.84 137.97 L349.41 138.03 L349.98 138.09 L350.54 138.16 L351.11 138.22 L351.68 138.29 L352.24 138.35 L352.81 138.41 L353.38 138.48 L353.95 138.54 L354.51 138.61 L355.08 138.67 L355.65 138.73 L356.22 138.80 L356.78 138.86 L357.35 138.92 L357.92 138.98 L358.48 139.05 L359.05 139.11 L359.62 139.17 L360.19 139.23 L360.75 139.29 L361.32 139.36 L361.89 139.42 L362.46 139.48 L363.02 139.54 L363.59 139.60 L364.16 139.66 L364.72 139.73 L365.29 139.79 L365.86 139.85 L366.43 139.91 L366.99 139.97 L367.56 140.03 L368.13 140.09 L368.70 140.15 L369.26 140.21 L369.83 140.27 L370.40 140.33 L370.96 140.39 L371.53 140.45 L372.10 140.51 L372.67 140.57 L373.23 140.63 L373.80 140.69 L374.37 140.75 L374.93 140.81 L375.50 140.87 L376.07 140.92 L376.64 140.98 L377.20 141.04 L377.77 141.10 L378.34 141.16 L378.91 141.22 L379.47 141.28 L380.04 141.33 L380.61 141.39 L381.17 141.45 L381.74 141.51 L382.31 141.56 L382.88 141.62 L383.44 141.68 L384.01 141.74 L384.58 141.79 L385.15 141.85 L385.71 141.91 L386.28 141.97 L386.85 142.02 L387.41 142.08 L387.98 142.14 L388.55 142.19 L389.12 142.25 L389.68 142.30 L390.25 142.36 L390.82 142.42 L391.39 142.47 L391.95 142.53 L392.52 142.58 L393.09 142.64 L393.65 142.70 L394.22 142.75 L394.79 142.81 L395.36 142.86 L395.92 142.92 L396.49 142.97 L397.06 143.03 L397.63 143.08 L398.19 143.14 L398.76 143.19 L399.33 143.25 L399.89 143.30 L400.46 143.35 L401.03 143.41 L401.60 143.46 L402.16 143.52 L402.73 143.57 L403.30 143.63 L403.87 143.68 L404.43 143.73 L405.00 143.79 L405.57 143.84 L406.13 143.89 L406.70 143.95 L407.27 144.00 L407.84 144.05 L408.40 144.11 L408.97 144.16 L409.54 144.21 L410.11 144.27 L410.67 144.32 L411.24 144.37 L411.81 144.42 L412.37 144.48 L412.94 144.53 L413.51 144.58 L414.08 144.63 L414.64 144.68 L415.21 144.74 L415.78 144.79 L416.35 144.84 L416.91 144.89 L417.48 144.94 L418.05 145.00 L418.61 145.05 L419.18 145.10 L419.75 145.15 L420.32 145.20 L420.88 145.25 L421.45 145.30 L422.02 145.35 L422.59 145.41 L423.15 145.46 L423.72 145.51 L424.29 145.56 L424.85 145.61 L425.42 145.66 L425.99 145.71 L426.56 145.76 L427.12 145.81 L427.69 145.86 L428.26 145.91 L428.83 145.96 L429.39 146.01 L429.96 146.06 L430.53 146.11 L431.09 146.16 L431.66 146.21 L432.23 146.26 L432.80 146.31 L433.36 146.36 L433.93 146.41 L434.50 146.46 L435.07 146.51 L435.63 146.55 L436.20 146.60 L436.77 146.65 L437.33 146.70 L437.90 146.75 L438.47 146.80 L439.04 146.85 L439.60 146.90 L440.17 146.94 L440.74 146.99 L441.31 147.04 L441.87 147.09 L442.44 147.14 L443.01 147.19 L443.57 147.23 L444.14 147.28 L444.71 147.33 L445.28 147.38 L445.84 147.42 L446.41 147.47 L446.98 147.52 L447.55 147.57 L448.11 147.61 L448.68 147.66 L449.25 147.71 L449.81 147.76 L450.38 147.80 L450.95 147.85 L451.52 147.90 L452.08 147.94 L452.65 147.99 L453.22 148.04 L453.79 148.08 L454.35 148.13 L454.92 148.18 L455.49 148.22 L456.05 148.27 L456.62 148.32 L457.19 148.36 L457.76 148.41 L458.32 148.46 L458.89 148.50 L459.46 148.55 L460.03 148.59 L460.59 148.64 L461.16 148.69 L461.73 148.73 L462.29 148.78 L462.86 148.82 L463.43 148.87 L464.00 148.91 L464.56 148.96 L465.13 149.00 L465.70 149.05 L466.26 149.10 L466.83 149.14 L467.40 149.19 L467.97 149.23 L468.53 149.28 L469.10 149.32 L469.67 149.36 L470.24 149.41 L470.80 149.45 L471.37 149.50 L471.94 149.54 L472.50 149.59 L473.07 149.63 L473.64 149.68 L474.21 149.72 L474.77 149.77 L475.34 149.81 L475.91 149.85 L476.48 149.90 L477.04 149.94 L477.61 149.99 L478.18 150.03 L478.74 150.07 L479.31 150.12 L479.88 150.16 L480.45 150.20 L481.01 150.25 L481.58 150.29 L482.15 150.33 L482.72 150.38 L483.28 150.42 L483.85 150.46 L484.42 150.51 L484.98 150.55 L485.55 150.59 L486.12 150.64 L486.69 150.68 L487.25 150.72 L487.82 150.77 L488.39 150.81 L488.96 150.85 L489.52 150.89 L490.09 150.94 L490.66 150.98 L491.22 151.02 L491.79 151.06 L492.36 151.11 L492.93 151.15 L493.49 151.19 L494.06 151.23 L494.63 151.28 L495.20 151.32 L495.76 151.36 L496.33 151.40 L496.90 151.44 L497.46 151.49 L498.03 151.53 L498.60 151.57 L499.17 151.61 L499.73 151.65 L500.30 151.69 L500.87 151.74 L501.44 151.78 L502.00 151.82 L502.57 151.86 L503.14 151.90 L503.70 151.94 L504.27 151.98 L504.84 152.02 L505.41 152.07 L505.97 152.11 L506.54 152.15 L507.11 152.19 L507.68 152.23 L508.24 152.27 L508.81 152.31 L509.38 152.35 L509.94 152.39 L510.51 152.43 L511.08 152.47 L511.65 152.51 L512.21 152.55 L512.78 152.59 L513.35 152.63 L513.92 152.67 L514.48 152.72 L515.05 152.76 L515.62 152.80 L516.18 152.84 L516.75 152.88 L517.32 152.92 L517.89 152.96 L518.45 153.00 L519.02 153.04 L519.59 153.07 L520.16 153.11 L520.72 153.15 L521.29 153.19 L521.86 153.23 L522.42 153.27 L522.99 153.31 L523.56 153.35 L524.13 153.39 L524.69 153.43 L525.26 153.47 L525.83 153.51 L526.40 153.55 L526.96 153.59 L527.53 153.63 L528.10 153.67 L528.66 153.70 L529.23 153.74 L529.80 153.78 L530.37 153.82 L530.93 153.86 L531.50 153.90 L532.07 153.94 L532.64 153.98 L533.20 154.01 L533.77 154.05 L534.34 154.09 L534.90 154.13 L535.47 154.17 L536.04 154.21 L536.61 154.24 L537.17 154.28 L537.74 154.32 L538.31 154.36 L538.88 154.40 L539.44 154.44 L540.01 154.47 L540.58 154.51 L541.14 154.55 L541.71 154.59 L542.28 154.62 L542.85 154.66 L543.41 154.70 L543.98 154.74 L544.55 154.78 L545.12 154.81 L545.68 154.85 L546.25 154.89 L546.82 154.93 L547.38 154.96 L547.95 155.00 L548.52 155.04 L549.09 155.07 L549.65 155.11 L550.22 155.15 L550.79 155.19 L551.36 155.22 L551.92 155.26 L552.49 155.30 L553.06 155.33 L553.62 155.37 L554.19 155.41 L554.76 155.45 L555.33 155.48 L555.89 155.52 L556.46 155.56 L557.03 155.59 L557.60 155.63 L558.16 155.67 L558.73 155.70 L559.30 155.74 L559.86 155.77 L560.43 155.81 L561.00 155.85 L561.57 155.88 L562.13 155.92 L562.70 155.96 L563.27 155.99 L563.83 156.03 L564.40 156.06 L564.97 156.10 L565.54 156.14 L566.10 156.17 L566.67 156.21 L567.24 156.24 L567.81 156.28 L568.37 156.32 L568.94 156.35 L569.51 156.39 L570.07 156.42 L570.64 156.46 L571.21 156.49 L571.78 156.53 L572.34 156.57 L572.91 156.60 L573.48 156.64 L574.05 156.67 L574.61 156.71 L575.18 156.74 L575.75 156.78 L576.31 156.81 L576.88 156.85 L577.45 156.88 L578.02 156.92 L578.58 156.95 L579.15 156.99 L579.72 157.02 L580.29 157.06 L580.85 157.09 L581.42 157.13 L581.99 157.16 L582.55 157.20 L583.12 157.23 L583.69 157.27 L584.26 157.30 L584.82 157.34 L585.39 157.37 L585.96 157.41 L586.53 157.44 L587.09 157.48 L587.66 157.51 L588.23 157.54 L588.79 157.58 L589.36 157.61 L589.93 157.65 L590.50 157.68 L591.06 157.72 L591.63 157.75 L592.20 157.78 L592.77 157.82 L593.33 157.85 L593.90 157.89 L594.47 157.92 L595.03 157.95 L595.60 157.99 L596.17 158.02 L596.74 158.06 L597.30 158.09 L597.87 158.12 L598.44 158.16 L599.01 158.19 L599.57 158.22 L600.14 158.26 L600.71 158.29 L601.27 158.33 L601.84 158.36 L602.41 158.39 L602.98 158.43 L603.54 158.46 L604.11 158.49 L604.68 158.53 L605.25 158.56 L605.81 158.59 L606.38 158.63 L606.95 158.66 L607.51 158.69 L608.08 158.73 L608.65 158.76 L609.22 158.79 L609.78 158.82 L610.35 158.86 L610.92 158.89 L611.49 158.92 L612.05 158.96 L612.62 158.99 L613.19 159.02 L613.75 159.05 L614.32 159.09 L614.89 159.12 L615.46 159.15 L616.02 159.19 L616.59 159.22 L617.16 159.25 L617.73 159.28 L618.29 159.32 L618.86 159.35 L619.43 159.38 L619.99 159.41 L620.56 159.45 L621.13 159.48 L621.70 159.51 L622.26 159.54 L622.83 159.57 L623.40 159.61 L623.97 159.64 L624.53 159.67 L625.10 159.70 L625.67 159.74 L626.23 159.77 L626.80 159.80 L627.37 159.83 L627.94 159.86 L628.50 159.90 L629.07 159.93 L629.64 159.96 L630.21 159.99 L630.77 160.02 L631.34 160.05 L631.91 160.09 L632.47 160.12 L633.04 160.15 L633.61 160.18 L634.18 160.21 L634.74 160.24 L635.31 160.28 L635.88 160.31 L636.45 160.34 L637.01 160.37 L637.58 160.40 L638.15 160.43 L638.71 160.46 L639.28 160.50 L639.85 160.53 L640.42 160.56 L640.98 160.59 L641.55 160.62 L642.12 160.65 L642.69 160.68 L643.25 160.71 L643.82 160.74 L644.39 160.78 L644.95 160.81 L645.52 160.84 L646.09 160.87 L646.66 160.90 L647.22 160.93 L647.79 160.96 L648.36 160.99 L648.93 161.02 L649.49 161.05 L650.06 161.08 L650.63 161.11 L651.19 161.15 L651.76 161.18 L652.33 161.21 L652.90 161.24 L653.46 161.27 L654.03 161.30 L654.60 161.33 L655.16 161.36" fill="none" stroke="#d62728" stroke-width="2.500" stroke-linecap="square" stroke-linejoin="round" clip-path="url(#c0)"/>
<path d="M60.13 411.40 L60.13 22.66" fill="none" stroke="#000000" stroke-width="1.111" stroke-linecap="square" stroke-linejoin="miter"/>
<path d="M683.50 411.40 L683.50 22.66" fill="none" stroke="#000000" stroke-width="1.111" stroke-linecap="square" stroke-linejoin="miter"/>
<path d="M60.13 411.40 L683.50 411.40" fill="none" stroke="#000000" stroke-width="1.111" stroke-linecap="square" stroke-linejoin="miter"/>
<path d="M60.13 22.66 L683.50 22.66" fill="none" stroke="#000000" stroke-width="1.111" stroke-linecap="square" stroke-linejoin="miter"/>
<text transform="translate(170.13,14.75) scale(1.0035,1.06)" font-size="16.667" stroke="#000" stroke-width="0.12" >SNR vs Distance for Various RIS Element Counts</text>
<path d="M554.21 138.49 L673.78 138.49 Q676.56 138.49 676.56 135.71 L676.56 32.38 Q676.56 29.60 673.78 29.60 L554.21 29.60 Q551.43 29.60 551.43 32.38 L551.43 135.71 Q551.43 138.49 554.21 138.49 Z" fill="#ffffff" fill-opacity="0.8" stroke="#cccccc" stroke-width="1.389" stroke-opacity="0.8" stroke-linecap="butt" stroke-linejoin="miter" transform="translate(-0.45,0.000)"/>
<path d="M556.99 41.30 L570.88 41.30 L584.76 41.30" fill="none" stroke="#000000" stroke-width="2.500" stroke-linecap="butt" stroke-linejoin="round" stroke-dasharray="7.824,3.383" transform="translate(-1.8,0.368)"/>
<text transform="translate(594.58,46.16) scale(1,1)" font-size="13.889" stroke="#000" stroke-width="0.12" >No RIS</text>
<path d="M556.99 62.24 L570.88 62.24 L584.76 62.24" fill="none" stroke="#1f77b4" stroke-width="2.500" stroke-linecap="square" stroke-linejoin="round" transform="translate(-1.8,0.368)"/>
<text transform="translate(594.58,66.49) scale(1,1)" font-size="13.889" stroke="#000" stroke-width="0.12" >RIS N=16</text>
<path d="M556.99 83.19 L570.88 83.19 L584.76 83.19" fill="none" stroke="#ff7f0e" stroke-width="2.500" stroke-linecap="square" stroke-linejoin="round" transform="translate(-1.8,0.368)"/>
<text transform="translate(594.58,88.05) scale(1,1)" font-size="13.889" stroke="#000" stroke-width="0.12" >RIS N=64</text>
<path d="M556.99 104.13 L570.88 104.13 L584.76 104.13" fill="none" stroke="#2ca02c" stroke-width="2.500" stroke-linecap="square" stroke-linejoin="round" transform="translate(-1.8,0.368)"/>
<text transform="translate(594.58,108.99) scale(1,1)" font-size="13.889" stroke="#000" stroke-width="0.12" >RIS N=100</text>
<path d="M556.99 125.08 L570.88 125.08 L584.76 125.08" fill="none" stroke="#d62728" stroke-width="2.500" stroke-linecap="square" stroke-linejoin="round" transform="translate(-1.8,0.368)"/>
<text transform="translate(594.58,129.94) scale(1,1)" font-size="13.889" stroke="#000" stroke-width="0.12" >RIS N=200</text>
</g>
</svg>
</body></html>
